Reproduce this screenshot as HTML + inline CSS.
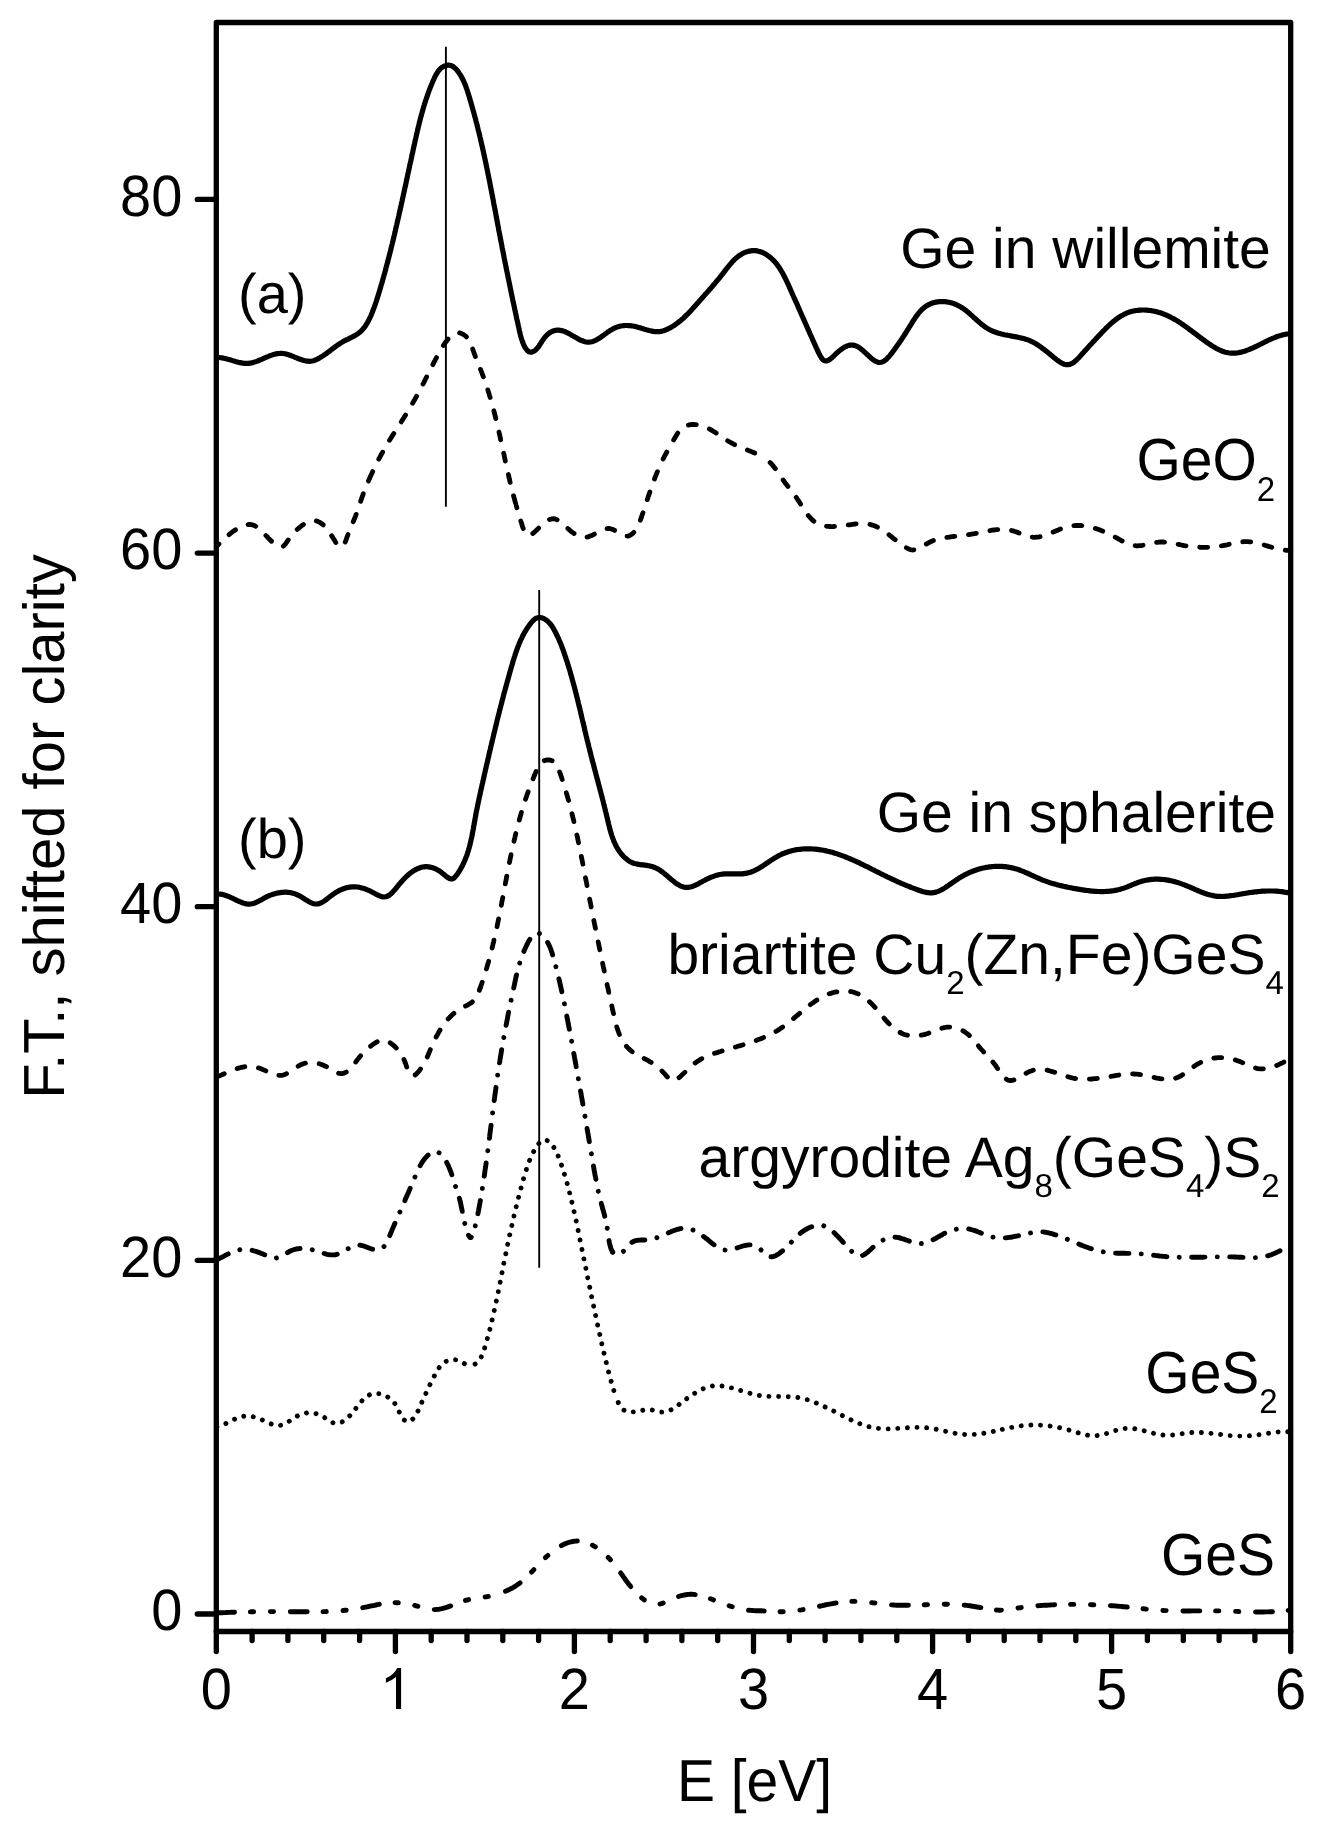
<!DOCTYPE html>
<html><head><meta charset="utf-8"><style>html,body{margin:0;padding:0;background:#fff;}svg{display:block;}text{text-rendering:geometricPrecision;}svg{will-change:transform;}</style></head>
<body>
<svg width="1318" height="1825" viewBox="0 0 1318 1825">
<rect width="100%" height="100%" fill="#fff"/>
<defs><clipPath id="c"><rect x="216.3" y="22.5" width="1074.4" height="1609.0"/></clipPath></defs>
<g fill="none" stroke="#000" stroke-linejoin="round" clip-path="url(#c)">
<path id="will" d="M216.3,357.5 L217.8,357.5 L219.3,357.5 L220.7,357.7 L222.2,357.9 L223.7,358.2 L225.2,358.5 L226.7,358.9 L228.1,359.3 L229.6,359.7 L231.1,360.1 L232.6,360.6 L234.1,361.1 L235.5,361.5 L237.0,361.9 L238.5,362.3 L239.9,362.6 L241.4,362.9 L242.9,363.2 L244.3,363.3 L245.8,363.4 L247.3,363.4 L248.7,363.3 L250.2,363.1 L251.6,362.9 L253.0,362.5 L254.5,362.1 L255.9,361.6 L257.4,361.1 L258.8,360.5 L260.2,359.9 L261.7,359.3 L263.1,358.7 L264.5,358.0 L266.0,357.4 L267.4,356.8 L268.9,356.2 L270.3,355.6 L271.7,355.1 L273.2,354.6 L274.6,354.2 L276.1,353.9 L277.5,353.6 L279.0,353.5 L280.4,353.4 L281.9,353.4 L283.3,353.5 L284.8,353.8 L286.3,354.1 L287.8,354.5 L289.2,355.0 L290.7,355.5 L292.2,356.1 L293.6,356.7 L295.1,357.3 L296.6,357.9 L298.0,358.5 L299.5,359.0 L300.9,359.6 L302.4,360.0 L303.8,360.5 L305.2,360.8 L306.6,361.1 L308.0,361.2 L309.4,361.3 L310.8,361.2 L312.1,361.0 L313.5,360.7 L314.8,360.3 L316.1,359.7 L317.4,359.1 L318.7,358.4 L320.0,357.7 L321.2,356.9 L322.5,356.1 L323.7,355.3 L325.0,354.5 L326.2,353.6 L327.4,352.7 L328.6,351.8 L329.8,350.9 L331.0,349.9 L332.3,349.0 L333.5,348.1 L334.7,347.2 L335.9,346.3 L337.2,345.4 L338.4,344.5 L339.7,343.7 L341.0,342.9 L342.3,342.1 L343.6,341.3 L344.9,340.6 L346.3,339.9 L347.6,339.3 L349.0,338.6 L350.3,337.9 L351.7,337.3 L353.0,336.6 L354.3,335.9 L355.6,335.2 L356.8,334.4 L358.0,333.6 L359.2,332.7 L360.3,331.8 L361.4,330.8 L362.4,329.7 L363.4,328.6 L364.3,327.4 L365.2,326.2 L366.0,325.0 L366.8,323.7 L367.6,322.3 L368.3,321.0 L369.0,319.6 L369.7,318.2 L370.4,316.8 L371.0,315.4 L371.6,313.9 L372.2,312.5 L372.8,311.0 L373.3,309.6 L373.9,308.2 L374.4,306.7 L374.9,305.3 L375.4,303.9 L375.9,302.5 L376.4,301.0 L376.8,299.6 L377.3,298.2 L377.7,296.8 L378.2,295.4 L378.6,294.0 L379.0,292.5 L379.5,291.1 L379.9,289.7 L380.3,288.3 L380.7,286.9 L381.1,285.4 L381.6,284.0 L382.0,282.6 L382.4,281.2 L382.8,279.7 L383.2,278.3 L383.6,276.9 L384.0,275.4 L384.4,274.0 L384.8,272.6 L385.2,271.1 L385.6,269.7 L385.9,268.2 L386.3,266.8 L386.7,265.4 L387.1,263.9 L387.5,262.5 L387.9,261.0 L388.2,259.6 L388.6,258.1 L389.0,256.7 L389.4,255.2 L389.7,253.8 L390.1,252.3 L390.5,250.9 L390.8,249.4 L391.2,248.0 L391.5,246.5 L391.9,245.1 L392.3,243.6 L392.6,242.1 L393.0,240.7 L393.3,239.2 L393.7,237.8 L394.0,236.3 L394.4,234.8 L394.7,233.4 L395.1,231.9 L395.4,230.4 L395.7,229.0 L396.1,227.5 L396.4,226.1 L396.8,224.6 L397.1,223.1 L397.4,221.7 L397.8,220.2 L398.1,218.7 L398.4,217.3 L398.8,215.8 L399.1,214.3 L399.4,212.8 L399.8,211.4 L400.1,209.9 L400.4,208.4 L400.8,207.0 L401.1,205.5 L401.4,204.0 L401.7,202.6 L402.1,201.1 L402.4,199.6 L402.7,198.1 L403.0,196.7 L403.3,195.2 L403.7,193.7 L404.0,192.3 L404.3,190.8 L404.6,189.3 L404.9,187.9 L405.3,186.4 L405.6,184.9 L405.9,183.4 L406.2,182.0 L406.5,180.5 L406.9,179.0 L407.2,177.6 L407.5,176.1 L407.8,174.6 L408.1,173.2 L408.4,171.7 L408.8,170.2 L409.1,168.8 L409.4,167.3 L409.7,165.8 L410.0,164.4 L410.3,162.9 L410.7,161.4 L411.0,160.0 L411.3,158.5 L411.6,157.1 L411.9,155.6 L412.2,154.1 L412.6,152.7 L412.9,151.2 L413.2,149.8 L413.5,148.3 L413.8,146.9 L414.2,145.4 L414.5,143.9 L414.8,142.5 L415.1,141.0 L415.4,139.6 L415.8,138.1 L416.1,136.7 L416.4,135.2 L416.7,133.8 L417.1,132.3 L417.4,130.9 L417.8,129.5 L418.1,128.0 L418.4,126.6 L418.8,125.1 L419.1,123.7 L419.5,122.2 L419.9,120.8 L420.2,119.4 L420.6,117.9 L421.0,116.5 L421.4,115.0 L421.8,113.6 L422.2,112.2 L422.6,110.7 L423.0,109.3 L423.4,107.8 L423.8,106.4 L424.3,105.0 L424.7,103.5 L425.2,102.1 L425.6,100.7 L426.1,99.2 L426.6,97.8 L427.1,96.4 L427.6,94.9 L428.1,93.5 L428.6,92.0 L429.1,90.6 L429.7,89.2 L430.2,87.7 L430.8,86.3 L431.4,84.9 L432.0,83.4 L432.6,82.0 L433.2,80.6 L433.9,79.1 L434.5,77.7 L435.2,76.3 L435.9,74.9 L436.7,73.6 L437.5,72.3 L438.3,71.1 L439.2,70.0 L440.2,68.9 L441.2,68.0 L442.3,67.2 L443.5,66.5 L444.8,65.9 L446.2,65.5 L447.6,65.2 L449.0,65.2 L450.4,65.4 L451.7,65.8 L452.9,66.4 L454.1,67.3 L455.2,68.3 L456.3,69.4 L457.3,70.6 L458.3,71.9 L459.1,73.1 L460.0,74.4 L460.8,75.7 L461.6,77.1 L462.3,78.4 L463.0,79.7 L463.6,81.1 L464.2,82.5 L464.8,83.9 L465.4,85.2 L465.9,86.6 L466.4,88.1 L466.9,89.5 L467.4,90.9 L467.8,92.3 L468.3,93.7 L468.7,95.2 L469.2,96.6 L469.6,98.0 L470.0,99.5 L470.4,100.9 L470.9,102.3 L471.3,103.8 L471.7,105.2 L472.1,106.7 L472.5,108.1 L472.9,109.5 L473.3,111.0 L473.7,112.4 L474.1,113.9 L474.5,115.3 L474.9,116.8 L475.3,118.2 L475.7,119.7 L476.0,121.1 L476.4,122.6 L476.8,124.0 L477.2,125.5 L477.5,126.9 L477.9,128.4 L478.2,129.8 L478.6,131.3 L479.0,132.7 L479.3,134.2 L479.7,135.6 L480.0,137.1 L480.4,138.6 L480.7,140.0 L481.0,141.5 L481.4,142.9 L481.7,144.4 L482.0,145.9 L482.4,147.3 L482.7,148.8 L483.0,150.3 L483.4,151.7 L483.7,153.2 L484.0,154.6 L484.3,156.1 L484.6,157.6 L484.9,159.0 L485.3,160.5 L485.6,162.0 L485.9,163.5 L486.2,164.9 L486.5,166.4 L486.8,167.9 L487.1,169.3 L487.4,170.8 L487.7,172.3 L488.0,173.7 L488.3,175.2 L488.6,176.7 L488.9,178.2 L489.2,179.6 L489.5,181.1 L489.8,182.6 L490.1,184.1 L490.3,185.5 L490.6,187.0 L490.9,188.5 L491.2,189.9 L491.5,191.4 L491.8,192.9 L492.1,194.4 L492.3,195.8 L492.6,197.3 L492.9,198.8 L493.2,200.3 L493.5,201.7 L493.7,203.2 L494.0,204.7 L494.3,206.2 L494.6,207.6 L494.9,209.1 L495.1,210.6 L495.4,212.1 L495.7,213.5 L496.0,215.0 L496.2,216.5 L496.5,218.0 L496.8,219.4 L497.1,220.9 L497.4,222.4 L497.6,223.9 L497.9,225.3 L498.2,226.8 L498.5,228.3 L498.7,229.7 L499.0,231.2 L499.3,232.7 L499.6,234.2 L499.9,235.6 L500.2,237.1 L500.4,238.6 L500.7,240.0 L501.0,241.5 L501.3,243.0 L501.6,244.5 L501.9,245.9 L502.1,247.4 L502.4,248.9 L502.7,250.3 L503.0,251.8 L503.3,253.3 L503.6,254.7 L503.9,256.2 L504.1,257.7 L504.4,259.1 L504.7,260.6 L505.0,262.1 L505.3,263.5 L505.6,265.0 L505.9,266.5 L506.2,267.9 L506.5,269.4 L506.8,270.9 L507.1,272.3 L507.4,273.8 L507.7,275.3 L508.0,276.7 L508.3,278.2 L508.6,279.7 L508.9,281.1 L509.2,282.6 L509.5,284.1 L509.8,285.5 L510.1,287.0 L510.4,288.5 L510.7,289.9 L511.0,291.4 L511.3,292.9 L511.6,294.3 L511.9,295.8 L512.2,297.3 L512.5,298.8 L512.8,300.2 L513.1,301.7 L513.5,303.2 L513.8,304.6 L514.1,306.1 L514.4,307.6 L514.7,309.0 L515.0,310.5 L515.3,312.0 L515.7,313.4 L516.0,314.9 L516.3,316.4 L516.6,317.9 L516.9,319.3 L517.3,320.8 L517.6,322.3 L517.9,323.8 L518.2,325.2 L518.5,326.7 L518.9,328.2 L519.2,329.7 L519.5,331.1 L519.9,332.6 L520.2,334.1 L520.6,335.6 L521.0,337.1 L521.4,338.5 L521.9,340.0 L522.4,341.5 L523.0,343.0 L523.6,344.6 L524.4,346.1 L525.1,347.5 L526.0,348.8 L526.9,350.0 L527.9,351.0 L529.0,351.7 L530.1,352.1 L531.2,352.1 L532.4,351.9 L533.6,351.4 L534.8,350.6 L536.0,349.7 L537.0,348.5 L538.1,347.3 L539.1,345.9 L540.0,344.4 L541.0,342.9 L541.9,341.4 L542.9,339.9 L543.9,338.5 L544.9,337.2 L546.0,336.0 L547.1,334.9 L548.2,333.9 L549.4,333.0 L550.6,332.2 L551.9,331.5 L553.2,331.0 L554.5,330.6 L555.9,330.3 L557.2,330.2 L558.6,330.2 L560.0,330.3 L561.4,330.6 L562.9,330.9 L564.3,331.4 L565.7,332.0 L567.0,332.6 L568.4,333.3 L569.8,334.1 L571.2,334.9 L572.6,335.7 L574.0,336.5 L575.4,337.3 L576.8,338.1 L578.2,338.9 L579.5,339.6 L580.9,340.3 L582.3,340.8 L583.6,341.3 L585.0,341.7 L586.3,342.0 L587.7,342.2 L589.0,342.2 L590.4,342.0 L591.7,341.8 L593.0,341.4 L594.3,340.9 L595.7,340.3 L597.0,339.6 L598.3,338.8 L599.6,338.0 L600.9,337.1 L602.2,336.1 L603.6,335.2 L604.9,334.2 L606.2,333.3 L607.5,332.3 L608.9,331.4 L610.2,330.5 L611.6,329.7 L612.9,328.9 L614.3,328.2 L615.6,327.6 L617.0,327.1 L618.4,326.7 L619.8,326.3 L621.2,326.0 L622.6,325.8 L624.0,325.6 L625.4,325.5 L626.9,325.5 L628.3,325.6 L629.8,325.7 L631.2,325.8 L632.7,326.0 L634.1,326.3 L635.6,326.6 L637.1,327.0 L638.5,327.4 L640.0,327.8 L641.5,328.3 L643.0,328.7 L644.5,329.2 L645.9,329.6 L647.4,330.1 L648.9,330.5 L650.4,330.8 L651.9,331.1 L653.4,331.4 L654.8,331.6 L656.3,331.7 L657.8,331.7 L659.2,331.6 L660.7,331.4 L662.1,331.1 L663.6,330.7 L665.0,330.2 L666.4,329.6 L667.8,329.0 L669.1,328.3 L670.5,327.6 L671.8,326.9 L673.1,326.1 L674.4,325.3 L675.6,324.4 L676.8,323.5 L678.0,322.6 L679.2,321.7 L680.4,320.8 L681.5,319.8 L682.7,318.8 L683.8,317.8 L684.9,316.7 L685.9,315.7 L687.0,314.6 L688.1,313.6 L689.1,312.5 L690.2,311.4 L691.2,310.3 L692.2,309.2 L693.2,308.0 L694.2,306.9 L695.2,305.8 L696.2,304.7 L697.2,303.5 L698.2,302.4 L699.2,301.3 L700.2,300.2 L701.2,299.1 L702.2,297.9 L703.2,296.8 L704.2,295.7 L705.1,294.6 L706.1,293.5 L707.1,292.4 L708.1,291.3 L709.1,290.1 L710.0,289.0 L711.0,287.9 L712.0,286.8 L712.9,285.7 L713.9,284.5 L714.9,283.4 L715.8,282.2 L716.8,281.1 L717.8,279.9 L718.7,278.8 L719.7,277.6 L720.6,276.4 L721.6,275.3 L722.5,274.1 L723.4,272.9 L724.4,271.6 L725.3,270.4 L726.2,269.2 L727.2,268.0 L728.1,266.8 L729.1,265.6 L730.1,264.4 L731.1,263.3 L732.1,262.1 L733.1,261.0 L734.1,259.9 L735.2,258.9 L736.3,257.9 L737.5,257.0 L738.6,256.1 L739.8,255.2 L741.1,254.4 L742.3,253.7 L743.7,253.0 L745.0,252.4 L746.4,251.9 L747.9,251.5 L749.4,251.1 L750.9,250.9 L752.4,250.7 L753.9,250.7 L755.4,250.7 L756.9,250.9 L758.3,251.2 L759.7,251.5 L761.1,252.0 L762.5,252.5 L763.8,253.1 L765.2,253.8 L766.4,254.6 L767.7,255.5 L768.9,256.4 L770.1,257.3 L771.3,258.3 L772.4,259.3 L773.5,260.4 L774.5,261.5 L775.5,262.7 L776.5,263.9 L777.4,265.1 L778.3,266.3 L779.2,267.6 L780.0,268.8 L780.8,270.1 L781.6,271.5 L782.4,272.8 L783.1,274.1 L783.8,275.5 L784.6,276.9 L785.2,278.2 L785.9,279.6 L786.6,281.0 L787.2,282.4 L787.9,283.8 L788.5,285.1 L789.1,286.5 L789.7,287.9 L790.3,289.2 L790.9,290.6 L791.5,291.9 L792.1,293.3 L792.7,294.6 L793.3,296.0 L793.9,297.3 L794.5,298.6 L795.1,299.9 L795.7,301.3 L796.3,302.6 L796.9,303.9 L797.4,305.2 L798.0,306.5 L798.6,307.9 L799.2,309.2 L799.8,310.5 L800.3,311.8 L800.9,313.2 L801.5,314.5 L802.1,315.8 L802.7,317.2 L803.3,318.5 L803.9,319.9 L804.5,321.2 L805.1,322.6 L805.7,323.9 L806.3,325.3 L806.9,326.7 L807.5,328.1 L808.1,329.5 L808.8,330.9 L809.4,332.3 L810.0,333.8 L810.7,335.2 L811.3,336.7 L812.0,338.1 L812.6,339.6 L813.3,341.1 L814.0,342.6 L814.7,344.2 L815.4,345.7 L816.1,347.3 L816.8,348.8 L817.5,350.4 L818.2,352.0 L819.0,353.5 L819.7,355.0 L820.5,356.4 L821.3,357.6 L822.1,358.7 L823.0,359.7 L823.9,360.4 L824.8,360.8 L825.8,361.0 L826.8,360.9 L827.8,360.6 L828.9,360.0 L830.0,359.3 L831.2,358.3 L832.3,357.3 L833.6,356.2 L834.8,355.0 L836.1,353.7 L837.4,352.5 L838.8,351.3 L840.2,350.1 L841.6,349.1 L843.0,348.1 L844.4,347.2 L845.9,346.5 L847.3,345.9 L848.8,345.4 L850.2,345.1 L851.7,345.0 L853.1,345.1 L854.5,345.4 L855.9,345.9 L857.3,346.5 L858.7,347.3 L860.0,348.2 L861.3,349.2 L862.6,350.3 L863.9,351.4 L865.2,352.6 L866.5,353.8 L867.8,355.0 L869.0,356.2 L870.3,357.3 L871.5,358.4 L872.7,359.4 L874.0,360.3 L875.2,361.1 L876.4,361.7 L877.6,362.2 L878.8,362.4 L879.9,362.5 L881.1,362.3 L882.3,362.0 L883.5,361.4 L884.6,360.7 L885.8,359.8 L886.9,358.8 L888.0,357.6 L889.1,356.4 L890.2,355.1 L891.3,353.8 L892.3,352.4 L893.3,351.1 L894.3,349.7 L895.3,348.4 L896.2,347.1 L897.1,345.8 L898.0,344.5 L898.9,343.3 L899.7,342.0 L900.6,340.8 L901.4,339.6 L902.2,338.4 L903.0,337.1 L903.8,335.9 L904.6,334.7 L905.4,333.5 L906.1,332.3 L906.9,331.0 L907.7,329.8 L908.5,328.5 L909.3,327.2 L910.1,325.9 L910.9,324.6 L911.7,323.3 L912.5,321.9 L913.4,320.6 L914.3,319.3 L915.1,318.0 L916.0,316.7 L917.0,315.4 L917.9,314.1 L918.9,312.9 L919.9,311.7 L920.9,310.6 L922.0,309.5 L923.1,308.5 L924.2,307.5 L925.4,306.6 L926.6,305.8 L927.9,305.1 L929.2,304.4 L930.5,303.8 L931.9,303.3 L933.2,302.8 L934.6,302.4 L936.1,302.1 L937.5,301.9 L938.9,301.7 L940.4,301.6 L941.9,301.6 L943.4,301.6 L944.8,301.7 L946.3,301.8 L947.8,302.1 L949.2,302.3 L950.7,302.7 L952.1,303.1 L953.6,303.5 L955.0,304.1 L956.4,304.7 L957.7,305.3 L959.0,306.0 L960.3,306.7 L961.6,307.5 L962.9,308.4 L964.1,309.2 L965.3,310.1 L966.5,311.1 L967.7,312.1 L968.9,313.1 L970.1,314.1 L971.2,315.1 L972.4,316.1 L973.5,317.2 L974.7,318.2 L975.8,319.3 L977.0,320.3 L978.1,321.3 L979.3,322.3 L980.4,323.3 L981.6,324.3 L982.8,325.2 L984.0,326.1 L985.2,327.0 L986.4,327.8 L987.7,328.6 L989.0,329.4 L990.3,330.0 L991.6,330.7 L992.9,331.3 L994.3,331.8 L995.7,332.3 L997.1,332.8 L998.5,333.2 L999.9,333.6 L1001.4,334.0 L1002.8,334.3 L1004.3,334.7 L1005.8,335.0 L1007.3,335.2 L1008.8,335.5 L1010.3,335.8 L1011.8,336.1 L1013.3,336.4 L1014.8,336.6 L1016.3,336.9 L1017.7,337.2 L1019.2,337.5 L1020.7,337.9 L1022.2,338.2 L1023.6,338.6 L1025.0,339.0 L1026.5,339.4 L1027.9,339.9 L1029.2,340.4 L1030.6,341.0 L1031.9,341.6 L1033.2,342.3 L1034.5,343.0 L1035.8,343.7 L1037.0,344.5 L1038.3,345.3 L1039.5,346.1 L1040.7,347.0 L1041.9,347.9 L1043.1,348.8 L1044.3,349.7 L1045.5,350.7 L1046.7,351.6 L1047.9,352.6 L1049.1,353.6 L1050.3,354.6 L1051.5,355.6 L1052.7,356.6 L1053.9,357.6 L1055.2,358.5 L1056.4,359.5 L1057.7,360.5 L1059.0,361.4 L1060.3,362.3 L1061.6,363.0 L1062.9,363.7 L1064.3,364.2 L1065.6,364.6 L1066.9,364.7 L1068.2,364.7 L1069.4,364.5 L1070.7,364.0 L1072.0,363.4 L1073.2,362.7 L1074.4,361.8 L1075.6,360.8 L1076.8,359.7 L1078.0,358.5 L1079.2,357.3 L1080.3,356.1 L1081.4,354.8 L1082.5,353.6 L1083.6,352.4 L1084.6,351.2 L1085.7,350.1 L1086.7,348.9 L1087.7,347.8 L1088.7,346.7 L1089.7,345.6 L1090.7,344.5 L1091.7,343.5 L1092.6,342.4 L1093.6,341.3 L1094.6,340.3 L1095.6,339.2 L1096.6,338.2 L1097.6,337.1 L1098.5,336.0 L1099.6,335.0 L1100.6,333.9 L1101.6,332.8 L1102.6,331.7 L1103.7,330.6 L1104.8,329.5 L1105.8,328.4 L1106.9,327.3 L1108.0,326.3 L1109.2,325.2 L1110.3,324.2 L1111.5,323.1 L1112.6,322.1 L1113.8,321.2 L1115.0,320.2 L1116.2,319.3 L1117.4,318.4 L1118.7,317.5 L1119.9,316.7 L1121.2,315.9 L1122.5,315.2 L1123.8,314.5 L1125.2,313.8 L1126.5,313.2 L1127.9,312.6 L1129.3,312.1 L1130.7,311.7 L1132.1,311.3 L1133.6,311.0 L1135.0,310.7 L1136.5,310.5 L1138.0,310.3 L1139.5,310.1 L1141.0,310.1 L1142.5,310.0 L1144.0,310.0 L1145.5,310.1 L1147.0,310.2 L1148.5,310.3 L1150.0,310.5 L1151.5,310.7 L1153.0,311.0 L1154.4,311.3 L1155.9,311.6 L1157.4,312.0 L1158.8,312.4 L1160.3,312.8 L1161.7,313.3 L1163.1,313.8 L1164.5,314.4 L1165.8,314.9 L1167.2,315.5 L1168.6,316.2 L1169.9,316.8 L1171.2,317.5 L1172.5,318.2 L1173.8,318.9 L1175.1,319.6 L1176.4,320.4 L1177.7,321.2 L1178.9,322.0 L1180.2,322.8 L1181.4,323.6 L1182.7,324.5 L1183.9,325.3 L1185.1,326.2 L1186.4,327.1 L1187.6,328.0 L1188.8,328.9 L1190.0,329.8 L1191.2,330.7 L1192.4,331.6 L1193.7,332.5 L1194.9,333.4 L1196.1,334.3 L1197.3,335.3 L1198.5,336.2 L1199.7,337.1 L1200.9,338.0 L1202.2,338.9 L1203.4,339.8 L1204.6,340.7 L1205.8,341.6 L1207.1,342.5 L1208.3,343.4 L1209.6,344.2 L1210.8,345.0 L1212.1,345.9 L1213.4,346.7 L1214.7,347.4 L1216.0,348.2 L1217.3,348.9 L1218.6,349.5 L1219.9,350.2 L1221.3,350.8 L1222.6,351.3 L1224.0,351.8 L1225.4,352.2 L1226.8,352.5 L1228.2,352.8 L1229.6,353.0 L1231.0,353.2 L1232.5,353.2 L1233.9,353.2 L1235.4,353.1 L1236.9,353.0 L1238.4,352.7 L1239.9,352.4 L1241.5,352.1 L1243.0,351.6 L1244.5,351.2 L1246.0,350.7 L1247.4,350.1 L1248.9,349.6 L1250.3,349.0 L1251.7,348.4 L1253.1,347.8 L1254.5,347.1 L1255.9,346.5 L1257.3,345.8 L1258.6,345.2 L1259.9,344.5 L1261.3,343.8 L1262.6,343.2 L1263.9,342.5 L1265.2,341.8 L1266.6,341.2 L1267.9,340.5 L1269.2,339.9 L1270.5,339.3 L1271.9,338.7 L1273.2,338.1 L1274.6,337.6 L1276.0,337.0 L1277.3,336.5 L1278.7,336.1 L1280.2,335.6 L1281.6,335.2 L1283.0,334.8 L1284.5,334.5 L1286.0,334.2 L1287.6,334.0 L1289.1,333.8 L1290.7,333.6" stroke-width="5.2"/>
<path d="M216.3,546.8 L217.0,546.1 L217.7,545.3 L218.5,544.4 L219.4,543.5 L220.4,542.5 L221.4,541.5 L222.5,540.4 L223.6,539.3 L224.8,538.2 L226.1,537.1 L227.3,536.0 L228.7,534.9 L230.0,533.8 L231.4,532.7 L232.8,531.6 L234.2,530.6 L235.7,529.7 L237.1,528.8 L238.6,527.9 L240.0,527.1 L241.5,526.5 L242.9,525.9 L244.4,525.4 L245.8,525.0 L247.2,524.7 L248.5,524.5 L249.9,524.5 L251.1,524.6 L252.4,524.9 L253.6,525.3 L254.8,525.8 L256.0,526.4 L257.1,527.2 L258.3,528.0 L259.4,528.9 L260.5,529.9 L261.6,530.9 L262.7,532.0 L263.8,533.2 L264.9,534.4 L266.0,535.6 L267.2,536.8 L268.3,538.1 L269.5,539.3 L270.7,540.5 L272.0,541.8 L273.2,542.9 L274.5,544.0 L275.8,545.0 L277.1,545.8 L278.4,546.4 L279.6,546.8 L280.8,547.0 L282.0,546.8 L283.0,546.3 L284.1,545.5 L285.1,544.4 L286.0,543.2 L286.9,541.9 L287.9,540.5 L288.8,539.1 L289.7,537.8 L290.7,536.5 L291.6,535.3 L292.6,534.1 L293.6,533.0 L294.7,531.9 L295.7,530.9 L296.8,529.8 L297.9,528.8 L299.1,527.8 L300.3,526.8 L301.5,525.9 L302.8,524.9 L304.1,524.0 L305.5,523.2 L306.8,522.4 L308.2,521.8 L309.6,521.2 L311.0,520.9 L312.4,520.6 L313.8,520.6 L315.2,520.7 L316.6,521.0 L318.0,521.5 L319.3,522.2 L320.6,522.9 L321.8,523.7 L323.0,524.7 L324.1,525.6 L325.1,526.7 L326.1,527.8 L327.1,528.9 L328.0,530.1 L328.9,531.4 L329.8,532.7 L330.7,534.1 L331.6,535.6 L332.5,537.1 L333.5,538.7 L334.5,540.3 L335.4,541.8 L336.4,543.3 L337.4,544.5 L338.4,545.6 L339.4,546.4 L340.3,546.9 L341.2,547.0 L342.0,546.7 L342.8,546.1 L343.6,545.1 L344.3,543.9 L345.0,542.5 L345.7,540.9 L346.3,539.2 L346.9,537.4 L347.6,535.6 L348.2,533.9 L348.8,532.3 L349.4,530.7 L350.0,529.2 L350.6,527.8 L351.2,526.4 L351.8,525.0 L352.4,523.7 L352.9,522.4 L353.5,521.1 L354.0,519.8 L354.6,518.5 L355.1,517.1 L355.6,515.8 L356.1,514.4 L356.6,513.1 L357.1,511.7 L357.6,510.3 L358.1,508.9 L358.6,507.4 L359.1,506.0 L359.5,504.6 L360.0,503.2 L360.5,501.7 L361.0,500.3 L361.5,498.8 L362.0,497.4 L362.5,496.0 L363.0,494.6 L363.5,493.2 L364.1,491.7 L364.6,490.3 L365.2,488.9 L365.7,487.5 L366.3,486.2 L366.8,484.8 L367.4,483.4 L368.0,482.0 L368.6,480.6 L369.2,479.3 L369.8,477.9 L370.4,476.5 L371.0,475.2 L371.7,473.8 L372.3,472.4" stroke-width="4.8" stroke-linecap="round" stroke-dasharray="8 13.8" stroke-dashoffset="4.12"/>
<path d="M372.3,472.4 L372.9,471.1 L373.6,469.7 L374.2,468.4 L374.9,467.0 L375.5,465.7 L376.2,464.4 L376.9,463.0 L377.5,461.7 L378.2,460.3 L378.9,459.0 L379.6,457.7 L380.3,456.4 L381.0,455.0 L381.7,453.7 L382.5,452.4 L383.2,451.1 L383.9,449.8 L384.7,448.5 L385.4,447.2 L386.2,445.9 L386.9,444.6 L387.7,443.3 L388.5,442.0 L389.2,440.7 L390.0,439.5 L390.8,438.2 L391.6,436.9 L392.4,435.6 L393.2,434.4 L394.0,433.1 L394.8,431.8 L395.6,430.6 L396.4,429.3 L397.2,428.1 L398.0,426.8 L398.8,425.5 L399.6,424.3 L400.5,423.0 L401.3,421.8 L402.1,420.5 L402.9,419.2 L403.7,418.0 L404.5,416.7 L405.3,415.4 L406.1,414.2 L406.9,412.9 L407.6,411.6 L408.4,410.3 L409.2,409.1 L410.0,407.8 L410.7,406.5 L411.5,405.2 L412.2,403.9 L413.0,402.6 L413.7,401.3 L414.5,400.0 L415.2,398.7 L415.9,397.4 L416.7,396.0 L417.4,394.7 L418.1,393.4 L418.8,392.1 L419.5,390.7 L420.2,389.4 L420.9,388.1 L421.6,386.8 L422.3,385.4 L423.0,384.1 L423.7,382.8 L424.4,381.4 L425.0,380.1 L425.7,378.7 L426.4,377.4 L427.1,376.1 L427.7,374.7 L428.4,373.4 L429.1,372.1 L429.8,370.7 L430.4,369.4 L431.1,368.1 L431.8,366.7 L432.5,365.4 L433.1,364.1 L433.8,362.7 L434.5,361.4 L435.2,360.1 L435.8,358.8 L436.5,357.5 L437.2,356.1 L437.9,354.8 L438.6,353.5 L439.3,352.2 L440.0,350.9 L440.8,349.6 L441.5,348.3 L442.3,347.0 L443.2,345.8 L444.0,344.5 L444.9,343.2 L445.8,341.9 L446.8,340.7 L447.8,339.4 L448.8,338.2 L449.9,337.0 L451.1,335.9 L452.3,334.9 L453.5,334.1 L454.8,333.4 L456.1,333.0 L457.4,332.8 L458.8,332.8 L460.2,333.1 L461.6,333.6 L463.0,334.2 L464.3,335.1 L465.6,336.0 L466.7,337.1 L467.7,338.3 L468.5,339.5 L469.3,340.8 L470.0,342.2 L470.7,343.6 L471.2,345.0 L471.8,346.4 L472.3,347.9 L472.8,349.4 L473.3,350.8 L473.8,352.3 L474.3,353.7 L474.9,355.1 L475.4,356.5 L476.0,358.0 L476.5,359.4 L477.1,360.7 L477.6,362.1 L478.2,363.5 L478.7,364.9 L479.3,366.3 L479.8,367.7 L480.4,369.0 L480.9,370.4 L481.5,371.8 L482.0,373.2 L482.5,374.6 L483.0,375.9 L483.6,377.3 L484.1,378.7 L484.6,380.1 L485.1,381.5 L485.5,382.9 L486.0,384.3 L486.5,385.8 L487.0,387.2 L487.4,388.6 L487.9,390.0 L488.3,391.4 L488.8,392.9 L489.2,394.3 L489.6,395.7 L490.1,397.2 L490.5,398.6 L490.9,400.0 L491.3,401.5 L491.7,402.9 L492.1,404.4 L492.5,405.8 L492.9,407.3 L493.3,408.7 L493.7,410.2 L494.1,411.6 L494.4,413.1 L494.8,414.5 L495.2,416.0 L495.5,417.5 L495.9,418.9 L496.2,420.4 L496.6,421.8 L497.0,423.3 L497.3,424.8 L497.6,426.2 L498.0,427.7 L498.3,429.2 L498.7,430.6 L499.0,432.1 L499.3,433.6 L499.7,435.1 L500.0,436.5 L500.3,438.0 L500.6,439.5 L501.0,440.9 L501.3,442.4 L501.6,443.9 L501.9,445.3 L502.3,446.8 L502.6,448.3 L502.9,449.8 L503.2,451.2 L503.5,452.7 L503.9,454.2 L504.2,455.6 L504.5,457.1 L504.8,458.5 L505.1,460.0 L505.4,461.5 L505.8,462.9 L506.1,464.4 L506.4,465.9 L506.7,467.3 L507.1,468.8 L507.4,470.2 L507.7,471.7 L508.0,473.1 L508.4,474.6 L508.7,476.0 L509.0,477.5 L509.4,478.9 L509.7,480.3 L510.0,481.8 L510.4,483.2 L510.7,484.6 L511.1,486.1 L511.4,487.5 L511.8,488.9 L512.1,490.3 L512.5,491.8 L512.9,493.2 L513.2,494.6 L513.6,496.0 L514.0,497.4 L514.4,498.8 L514.7,500.2 L515.1,501.6 L515.5,503.0 L515.9,504.4 L516.3,505.8" stroke-width="4.8" stroke-linecap="round" stroke-dasharray="8 13.8" stroke-dashoffset="7.07"/>
<path d="M516.3,505.8 L516.7,507.2 L517.1,508.6 L517.6,510.1 L518.0,511.5 L518.4,513.0 L518.9,514.6 L519.4,516.1 L519.8,517.7 L520.3,519.3 L520.8,521.0 L521.4,522.7 L521.9,524.5 L522.4,526.2 L523.0,528.0 L523.7,529.6 L524.3,531.1 L525.0,532.5 L525.8,533.6 L526.6,534.5 L527.5,535.1 L528.5,535.4 L529.5,535.3 L530.6,534.9 L531.8,534.2 L533.0,533.3 L534.2,532.3 L535.4,531.2 L536.7,530.0 L538.0,528.8 L539.2,527.6 L540.5,526.3 L541.8,525.1 L543.1,524.0 L544.4,522.9 L545.7,521.8 L547.0,520.9 L548.3,520.1 L549.6,519.5 L550.9,519.1 L552.2,518.8 L553.5,518.7 L554.8,518.9 L556.0,519.3 L557.3,519.9 L558.5,520.7 L559.7,521.5 L561.0,522.5 L562.2,523.5 L563.4,524.6 L564.6,525.7 L565.8,526.7 L567.0,527.8 L568.2,528.8 L569.3,529.9 L570.5,530.8 L571.7,531.8 L572.9,532.7 L574.1,533.5 L575.4,534.3 L576.6,535.0 L577.8,535.6 L579.1,536.2 L580.3,536.6 L581.6,536.9 L582.9,537.2 L584.2,537.3 L585.5,537.2 L586.8,537.1 L588.2,536.8 L589.6,536.3 L591.0,535.8 L592.4,535.1 L593.9,534.4 L595.3,533.6 L596.8,532.8 L598.3,531.9 L599.7,531.2 L601.2,530.4 L602.7,529.8 L604.2,529.2 L605.7,528.8 L607.1,528.6 L608.6,528.5 L610.0,528.7 L611.4,529.0 L612.9,529.5 L614.3,530.2 L615.7,531.0 L617.1,531.8 L618.5,532.6 L619.9,533.5 L621.3,534.3 L622.6,535.0 L624.0,535.6 L625.4,536.0 L626.7,536.1 L628.0,536.1 L629.3,535.7 L630.5,535.1 L631.7,534.3 L632.8,533.4 L633.9,532.3 L634.8,531.2 L635.7,530.0 L636.5,528.7 L637.3,527.5 L638.0,526.1 L638.6,524.7 L639.2,523.3 L639.7,521.9 L640.3,520.5 L640.8,519.0 L641.3,517.6 L641.8,516.1 L642.3,514.6 L642.8,513.2 L643.3,511.7 L643.7,510.3 L644.2,508.8 L644.7,507.4 L645.2,505.9 L645.7,504.5 L646.1,503.1 L646.6,501.6 L647.1,500.2 L647.6,498.8 L648.0,497.3 L648.5,495.9 L649.0,494.5 L649.5,493.1 L650.0,491.6 L650.4,490.2 L650.9,488.8 L651.4,487.4 L651.9,486.0 L652.4,484.6 L652.9,483.2 L653.4,481.8 L654.0,480.4 L654.5,479.0 L655.0,477.6 L655.5,476.2 L656.1,474.8 L656.6,473.5 L657.2,472.1 L657.8,470.7 L658.3,469.4 L658.9,468.0 L659.5,466.6 L660.1,465.3 L660.7,463.9 L661.4,462.6 L662.0,461.2 L662.7,459.9 L663.3,458.6 L664.0,457.3 L664.7,455.9 L665.4,454.6 L666.1,453.3 L666.8,452.0 L667.5,450.7 L668.3,449.4 L669.0,448.0 L669.8,446.7 L670.5,445.4 L671.3,444.1 L672.0,442.8 L672.8,441.5 L673.6,440.1 L674.4,438.8 L675.1,437.5 L675.9,436.1 L676.7,434.8 L677.5,433.5 L678.4,432.2 L679.3,431.0 L680.2,429.8 L681.2,428.8 L682.3,427.8 L683.5,426.9 L684.7,426.2 L686.1,425.6 L687.6,425.2 L689.1,424.9 L690.6,424.6 L692.2,424.5 L693.7,424.5 L695.2,424.6 L696.7,424.7 L698.2,424.9 L699.7,425.2 L701.1,425.6 L702.5,426.0 L703.9,426.5 L705.3,427.0 L706.6,427.6 L708.0,428.3 L709.3,428.9 L710.6,429.6 L711.9,430.4 L713.2,431.2 L714.5,432.0 L715.7,432.8 L717.0,433.6 L718.3,434.5 L719.5,435.3 L720.8,436.2 L722.1,437.1 L723.3,437.9 L724.6,438.8 L725.9,439.6 L727.1,440.4 L728.4,441.2 L729.7,442.0 L731.0,442.7 L732.3,443.4 L733.6,444.1 L735.0,444.8 L736.3,445.4 L737.6,446.0 L739.0,446.6 L740.3,447.2 L741.7,447.8 L743.1,448.3 L744.4,448.9 L745.8,449.4 L747.2,450.0 L748.6,450.5 L750.0,451.1 L751.4,451.6 L752.8,452.2 L754.2,452.8 L755.6,453.4 L757.0,454.0 L758.4,454.6 L759.8,455.3 L761.1,456.0" stroke-width="4.8" stroke-linecap="round" stroke-dasharray="8 13.8" stroke-dashoffset="5.99"/>
<path d="M761.1,456.0 L762.4,456.7 L763.7,457.5 L765.0,458.3 L766.2,459.2 L767.4,460.1 L768.5,461.1 L769.6,462.1 L770.7,463.1 L771.7,464.2 L772.7,465.3 L773.6,466.5 L774.6,467.7 L775.5,468.9 L776.4,470.1 L777.3,471.3 L778.1,472.6 L779.0,473.8 L779.8,475.1 L780.7,476.3 L781.5,477.6 L782.4,478.8 L783.2,480.1 L784.1,481.3 L784.9,482.5 L785.8,483.7 L786.7,484.8 L787.6,486.0 L788.5,487.1 L789.4,488.3 L790.3,489.4 L791.2,490.5 L792.1,491.7 L793.0,492.9 L793.9,494.0 L794.8,495.2 L795.6,496.5 L796.5,497.7 L797.3,499.0 L798.2,500.3 L799.0,501.6 L799.9,503.0 L800.7,504.3 L801.5,505.7 L802.4,507.0 L803.2,508.3 L804.1,509.6 L804.9,510.9 L805.8,512.2 L806.7,513.5 L807.6,514.7 L808.6,515.9 L809.6,517.0 L810.6,518.1 L811.6,519.2 L812.6,520.1 L813.7,521.1 L814.9,521.9 L816.1,522.7 L817.3,523.4 L818.5,524.0 L819.8,524.6 L821.2,525.0 L822.5,525.4 L823.9,525.8 L825.4,526.0 L826.8,526.3 L828.3,526.4 L829.7,526.5 L831.2,526.6 L832.7,526.6 L834.2,526.5 L835.7,526.4 L837.2,526.3 L838.7,526.2 L840.2,526.0 L841.8,525.8 L843.3,525.6 L844.8,525.4 L846.4,525.2 L847.9,525.0 L849.4,524.8 L850.9,524.6 L852.5,524.4 L854.0,524.2 L855.5,524.0 L857.0,523.9 L858.5,523.8 L860.0,523.7 L861.5,523.7 L863.0,523.7 L864.4,523.7 L865.9,523.8 L867.3,524.0 L868.7,524.2 L870.2,524.5 L871.5,524.9 L872.9,525.3 L874.3,525.8 L875.6,526.3 L876.9,526.9 L878.3,527.6 L879.6,528.3 L880.9,529.0 L882.1,529.8 L883.4,530.7 L884.7,531.6 L886.0,532.5 L887.2,533.4 L888.5,534.3 L889.7,535.3 L891.0,536.3 L892.2,537.3 L893.4,538.3 L894.7,539.3 L895.9,540.3 L897.2,541.2 L898.4,542.2 L899.7,543.2 L901.0,544.1 L902.2,545.1 L903.5,546.0 L904.8,546.8 L906.1,547.6 L907.4,548.3 L908.7,549.0 L910.0,549.5 L911.4,549.8 L912.7,550.0 L914.0,549.9 L915.3,549.7 L916.7,549.3 L918.0,548.8 L919.4,548.2 L920.7,547.4 L922.1,546.6 L923.4,545.8 L924.8,544.9 L926.2,544.1 L927.6,543.3 L929.0,542.5 L930.4,541.8 L931.8,541.2 L933.2,540.6 L934.6,540.1 L936.1,539.7 L937.5,539.3 L939.0,538.9 L940.4,538.5 L941.9,538.2 L943.3,538.0 L944.8,537.7 L946.3,537.5 L947.7,537.3 L949.2,537.1 L950.7,536.9 L952.2,536.7 L953.6,536.5 L955.1,536.4 L956.6,536.2 L958.1,536.0 L959.6,535.9 L961.0,535.7 L962.5,535.5 L964.0,535.3 L965.5,535.1 L967.0,534.9 L968.5,534.7 L970.0,534.5 L971.4,534.2 L972.9,533.9 L974.4,533.7 L975.9,533.4 L977.4,533.1 L978.9,532.8 L980.3,532.5 L981.8,532.2 L983.3,531.8 L984.8,531.6 L986.3,531.3 L987.7,531.0 L989.2,530.7 L990.7,530.5 L992.2,530.2 L993.7,530.0 L995.1,529.9 L996.6,529.7 L998.1,529.6 L999.6,529.5 L1001.1,529.5 L1002.5,529.5 L1004.0,529.5 L1005.5,529.6 L1007.0,529.7 L1008.4,529.9 L1009.9,530.2 L1011.4,530.5 L1012.9,530.8 L1014.3,531.3 L1015.8,531.7 L1017.3,532.3 L1018.8,532.9 L1020.2,533.5 L1021.7,534.1 L1023.2,534.7 L1024.6,535.2 L1026.1,535.8 L1027.5,536.2 L1029.0,536.6 L1030.4,536.9 L1031.9,537.2 L1033.3,537.3 L1034.8,537.3 L1036.2,537.2 L1037.7,537.1 L1039.1,536.9 L1040.5,536.6 L1041.9,536.2 L1043.4,535.8 L1044.8,535.4 L1046.2,534.9 L1047.6,534.4 L1049.1,533.8 L1050.5,533.2 L1051.9,532.6 L1053.3,532.0 L1054.7,531.4 L1056.2,530.8 L1057.6,530.2 L1059.0,529.6 L1060.4,529.0 L1061.9,528.5 L1063.3,528.0 L1064.7,527.5 L1066.1,527.0 L1067.6,526.7 L1069.0,526.3 L1070.5,526.1 L1071.9,525.8 L1073.3,525.7 L1074.8,525.6 L1076.2,525.5 L1077.7,525.5 L1079.1,525.5 L1080.6,525.5 L1082.0,525.7 L1083.5,525.8 L1084.9,526.0 L1086.4,526.2 L1087.8,526.5 L1089.3,526.8 L1090.7,527.1 L1092.2,527.5 L1093.6,527.9 L1095.0,528.3 L1096.5,528.8 L1097.9,529.3 L1099.3,529.8 L1100.7,530.3 L1102.2,530.9 L1103.6,531.5 L1105.0,532.1 L1106.4,532.7 L1107.8,533.4 L1109.2,534.1 L1110.6,534.7 L1112.0,535.4 L1113.3,536.1 L1114.7,536.9 L1116.1,537.6 L1117.4,538.3 L1118.8,539.1 L1120.1,539.8 L1121.4,540.6 L1122.8,541.3 L1124.1,542.0 L1125.4,542.7 L1126.8,543.3 L1128.1,543.9 L1129.5,544.4 L1130.8,544.9 L1132.2,545.2 L1133.6,545.5 L1135.0,545.7 L1136.4,545.8 L1137.8,545.8 L1139.3,545.7 L1140.8,545.6 L1142.3,545.4 L1143.8,545.1 L1145.3,544.8 L1146.8,544.5 L1148.3,544.2 L1149.8,543.8 L1151.3,543.5 L1152.9,543.1 L1154.4,542.8 L1155.9,542.5 L1157.5,542.3 L1159.0,542.1 L1160.5,542.0 L1162.0,542.0 L1163.5,542.0 L1165.0,542.1 L1166.5,542.2 L1168.0,542.4 L1169.5,542.6 L1171.0,542.9 L1172.5,543.1 L1174.0,543.4 L1175.5,543.8 L1176.9,544.1 L1178.4,544.4 L1179.9,544.7 L1181.4,545.0 L1182.9,545.3 L1184.3,545.6 L1185.8,545.8 L1187.3,546.1 L1188.8,546.3 L1190.2,546.5 L1191.7,546.6 L1193.2,546.8 L1194.7,546.9 L1196.1,547.1 L1197.6,547.2 L1199.1,547.2 L1200.6,547.3 L1202.0,547.3 L1203.5,547.4 L1205.0,547.3 L1206.5,547.3 L1207.9,547.3 L1209.4,547.2 L1210.9,547.1 L1212.4,547.0 L1213.9,546.9 L1215.3,546.7 L1216.8,546.6 L1218.3,546.4 L1219.8,546.2 L1221.3,545.9 L1222.7,545.7 L1224.2,545.4 L1225.7,545.1 L1227.2,544.8 L1228.7,544.4 L1230.2,544.1 L1231.6,543.7 L1233.1,543.4 L1234.6,543.0 L1236.1,542.7 L1237.6,542.4 L1239.1,542.2 L1240.5,542.0 L1242.0,541.8 L1243.5,541.7 L1245.0,541.6 L1246.5,541.6 L1247.9,541.7 L1249.4,541.8 L1250.9,541.9 L1252.4,542.2 L1253.8,542.4 L1255.3,542.7 L1256.8,543.0 L1258.3,543.4 L1259.7,543.8 L1261.2,544.2 L1262.7,544.6 L1264.2,545.0 L1265.6,545.5 L1267.1,545.9 L1268.6,546.4 L1270.1,546.8 L1271.5,547.3 L1273.0,547.7 L1274.5,548.1 L1276.0,548.5 L1277.4,548.9 L1278.9,549.2 L1280.4,549.5 L1281.8,549.8 L1283.3,550.0 L1284.8,550.1 L1286.3,550.3 L1287.7,550.3 L1289.2,550.4 L1290.7,550.3" stroke-width="4.8" stroke-linecap="round" stroke-dasharray="8 13.8" stroke-dashoffset="10.62"/>
<path id="sph" d="M216.3,894.3 L217.8,894.1 L219.2,894.1 L220.7,894.2 L222.1,894.4 L223.6,894.7 L225.1,895.2 L226.5,895.7 L228.0,896.2 L229.5,896.8 L230.9,897.5 L232.4,898.2 L233.8,898.9 L235.3,899.6 L236.7,900.3 L238.1,901.0 L239.6,901.6 L241.0,902.2 L242.4,902.8 L243.8,903.3 L245.2,903.6 L246.6,903.9 L248.0,904.1 L249.4,904.1 L250.7,904.0 L252.1,903.8 L253.4,903.4 L254.7,903.0 L256.1,902.4 L257.4,901.8 L258.7,901.1 L260.1,900.4 L261.4,899.7 L262.8,898.9 L264.2,898.1 L265.6,897.4 L267.0,896.7 L268.4,896.0 L269.8,895.4 L271.3,894.9 L272.7,894.3 L274.2,893.9 L275.7,893.5 L277.2,893.1 L278.7,892.8 L280.2,892.6 L281.7,892.4 L283.2,892.3 L284.7,892.2 L286.2,892.2 L287.7,892.3 L289.2,892.5 L290.7,892.7 L292.2,893.0 L293.7,893.4 L295.1,893.9 L296.6,894.5 L298.0,895.1 L299.4,895.8 L300.8,896.6 L302.2,897.4 L303.5,898.3 L304.9,899.2 L306.2,900.0 L307.5,900.8 L308.8,901.6 L310.1,902.3 L311.4,902.9 L312.7,903.4 L314.0,903.8 L315.3,904.0 L316.5,904.0 L317.8,903.9 L319.1,903.6 L320.3,903.2 L321.6,902.6 L322.8,901.9 L324.1,901.1 L325.4,900.2 L326.6,899.3 L327.9,898.3 L329.2,897.3 L330.5,896.3 L331.8,895.3 L333.1,894.3 L334.5,893.4 L335.8,892.5 L337.2,891.7 L338.6,890.9 L340.0,890.2 L341.4,889.6 L342.8,889.0 L344.2,888.5 L345.7,888.0 L347.1,887.6 L348.5,887.3 L350.0,887.1 L351.4,886.9 L352.9,886.8 L354.4,886.8 L355.8,886.9 L357.3,887.0 L358.8,887.2 L360.2,887.5 L361.7,887.9 L363.2,888.3 L364.6,888.7 L366.1,889.3 L367.5,889.9 L369.0,890.5 L370.5,891.2 L371.9,892.0 L373.3,892.7 L374.8,893.5 L376.2,894.3 L377.6,895.0 L379.0,895.6 L380.3,896.2 L381.7,896.6 L383.0,896.9 L384.2,897.0 L385.4,896.8 L386.6,896.5 L387.8,896.0 L388.9,895.4 L390.0,894.6 L391.1,893.7 L392.2,892.6 L393.2,891.5 L394.3,890.3 L395.3,889.1 L396.4,887.8 L397.4,886.5 L398.5,885.2 L399.5,883.9 L400.6,882.7 L401.7,881.4 L402.8,880.2 L404.0,879.0 L405.1,877.8 L406.3,876.7 L407.4,875.6 L408.6,874.5 L409.8,873.5 L411.0,872.6 L412.3,871.7 L413.5,870.8 L414.8,870.1 L416.1,869.4 L417.4,868.7 L418.7,868.2 L420.0,867.7 L421.3,867.3 L422.7,867.0 L424.1,866.8 L425.5,866.7 L426.9,866.7 L428.4,866.8 L429.8,867.1 L431.3,867.4 L432.8,867.8 L434.2,868.3 L435.7,868.9 L437.2,869.7 L438.6,870.5 L440.0,871.4 L441.4,872.4 L442.7,873.5 L444.1,874.6 L445.4,875.7 L446.6,876.7 L447.8,877.6 L449.0,878.3 L450.2,878.8 L451.3,879.0 L452.4,878.9 L453.5,878.4 L454.5,877.6 L455.5,876.5 L456.4,875.3 L457.4,874.1 L458.3,872.7 L459.1,871.4 L459.9,870.1 L460.7,868.7 L461.5,867.4 L462.2,866.0 L462.9,864.6 L463.6,863.2 L464.2,861.8 L464.8,860.4 L465.4,859.0 L465.9,857.6 L466.5,856.2 L467.0,854.8 L467.5,853.4 L467.9,851.9 L468.4,850.5 L468.8,849.0 L469.2,847.6 L469.6,846.1 L470.0,844.7 L470.3,843.2 L470.7,841.7 L471.0,840.3 L471.3,838.8 L471.7,837.3 L472.0,835.8 L472.3,834.4 L472.5,832.9 L472.8,831.4 L473.1,829.9 L473.4,828.4 L473.6,826.9 L473.9,825.5 L474.2,824.0 L474.4,822.5 L474.7,821.0 L475.0,819.5 L475.2,818.0 L475.5,816.6 L475.8,815.1 L476.0,813.6 L476.3,812.1 L476.6,810.7 L476.9,809.2 L477.2,807.7 L477.5,806.2 L477.8,804.8 L478.1,803.3 L478.4,801.8 L478.7,800.4 L479.0,798.9 L479.3,797.4 L479.7,796.0 L480.0,794.5 L480.3,793.1 L480.6,791.6 L480.9,790.1 L481.3,788.7 L481.6,787.2 L481.9,785.8 L482.2,784.3 L482.6,782.8 L482.9,781.4 L483.2,779.9 L483.6,778.5 L483.9,777.0 L484.2,775.6 L484.5,774.1 L484.9,772.6 L485.2,771.2 L485.5,769.7 L485.9,768.3 L486.2,766.8 L486.5,765.3 L486.9,763.9 L487.2,762.4 L487.6,761.0 L487.9,759.5 L488.2,758.1 L488.6,756.6 L488.9,755.1 L489.2,753.7 L489.6,752.2 L489.9,750.8 L490.3,749.3 L490.6,747.8 L490.9,746.4 L491.3,744.9 L491.6,743.5 L492.0,742.0 L492.3,740.5 L492.7,739.1 L493.0,737.6 L493.4,736.2 L493.7,734.7 L494.1,733.2 L494.4,731.8 L494.8,730.3 L495.1,728.9 L495.5,727.4 L495.8,726.0 L496.2,724.5 L496.5,723.0 L496.9,721.6 L497.2,720.1 L497.6,718.7 L498.0,717.2 L498.3,715.8 L498.7,714.3 L499.1,712.9 L499.4,711.4 L499.8,709.9 L500.2,708.5 L500.5,707.0 L500.9,705.6 L501.3,704.1 L501.7,702.7 L502.0,701.2 L502.4,699.8 L502.8,698.3 L503.2,696.9 L503.5,695.4 L503.9,694.0 L504.3,692.5 L504.7,691.1 L505.1,689.6 L505.5,688.2 L505.9,686.7 L506.3,685.3 L506.7,683.8 L507.1,682.4 L507.5,680.9 L507.9,679.5 L508.3,678.1 L508.7,676.6 L509.1,675.2 L509.5,673.7 L509.9,672.3 L510.3,670.8 L510.7,669.4 L511.1,668.0 L511.5,666.5 L512.0,665.1 L512.4,663.6 L512.8,662.2 L513.2,660.8 L513.7,659.3 L514.1,657.9 L514.6,656.5 L515.0,655.1 L515.5,653.6 L516.0,652.2 L516.5,650.8 L517.0,649.4 L517.5,648.0 L518.0,646.6 L518.6,645.2 L519.1,643.8 L519.7,642.4 L520.3,641.0 L520.9,639.7 L521.6,638.3 L522.2,637.0 L522.9,635.6 L523.6,634.3 L524.3,632.9 L525.1,631.6 L525.9,630.3 L526.7,629.0 L527.5,627.7 L528.4,626.5 L529.3,625.2 L530.2,623.9 L531.2,622.7 L532.2,621.6 L533.2,620.5 L534.3,619.5 L535.4,618.7 L536.5,618.1 L537.7,617.7 L539.0,617.5 L540.3,617.5 L541.6,617.8 L543.0,618.2 L544.3,618.9 L545.6,619.7 L546.9,620.6 L548.1,621.7 L549.3,622.8 L550.3,624.0 L551.3,625.2 L552.2,626.5 L553.0,627.8 L553.8,629.1 L554.5,630.5 L555.2,631.8 L555.9,633.2 L556.6,634.5 L557.2,635.9 L557.9,637.2 L558.5,638.6 L559.1,640.0 L559.7,641.3 L560.3,642.7 L560.8,644.1 L561.4,645.5 L561.9,646.9 L562.4,648.3 L563.0,649.7 L563.5,651.1 L564.0,652.5 L564.4,653.9 L564.9,655.3 L565.4,656.7 L565.9,658.1 L566.3,659.5 L566.8,660.9 L567.3,662.4 L567.7,663.8 L568.1,665.2 L568.6,666.6 L569.0,668.1 L569.5,669.5 L569.9,670.9 L570.3,672.4 L570.7,673.8 L571.1,675.2 L571.5,676.7 L571.9,678.1 L572.3,679.6 L572.7,681.0 L573.1,682.4 L573.5,683.9 L573.9,685.3 L574.3,686.8 L574.7,688.2 L575.0,689.7 L575.4,691.1 L575.8,692.6 L576.2,694.0 L576.5,695.5 L576.9,697.0 L577.3,698.4 L577.6,699.9 L578.0,701.3 L578.3,702.8 L578.7,704.3 L579.0,705.7 L579.4,707.2 L579.8,708.6 L580.1,710.1 L580.5,711.6 L580.8,713.0 L581.1,714.5 L581.5,716.0 L581.8,717.4 L582.2,718.9 L582.5,720.3 L582.9,721.8 L583.2,723.3 L583.6,724.7 L583.9,726.2 L584.3,727.7 L584.6,729.1 L584.9,730.6 L585.3,732.0 L585.6,733.5 L586.0,735.0 L586.3,736.4 L586.7,737.9 L587.0,739.3 L587.4,740.8 L587.8,742.3 L588.1,743.7 L588.5,745.2 L588.8,746.6 L589.2,748.1 L589.6,749.5 L589.9,751.0 L590.3,752.4 L590.7,753.9 L591.0,755.3 L591.4,756.8 L591.8,758.2 L592.1,759.7 L592.5,761.1 L592.9,762.5 L593.3,764.0 L593.7,765.4 L594.0,766.9 L594.4,768.3 L594.8,769.8 L595.2,771.2 L595.6,772.6 L595.9,774.1 L596.3,775.5 L596.7,777.0 L597.1,778.4 L597.5,779.9 L597.9,781.3 L598.2,782.8 L598.6,784.2 L599.0,785.6 L599.4,787.1 L599.8,788.5 L600.1,790.0 L600.5,791.4 L600.9,792.9 L601.3,794.3 L601.7,795.8 L602.0,797.2 L602.4,798.7 L602.8,800.1 L603.2,801.6 L603.5,803.1 L603.9,804.5 L604.3,806.0 L604.6,807.4 L605.0,808.9 L605.4,810.4 L605.7,811.8 L606.1,813.3 L606.4,814.8 L606.8,816.2 L607.1,817.7 L607.5,819.2 L607.8,820.7 L608.2,822.1 L608.5,823.6 L608.9,825.1 L609.3,826.6 L609.6,828.0 L610.0,829.5 L610.4,830.9 L610.8,832.4 L611.3,833.8 L611.7,835.2 L612.2,836.7 L612.7,838.1 L613.2,839.5 L613.7,840.9 L614.3,842.2 L614.9,843.6 L615.6,844.9 L616.2,846.2 L616.9,847.5 L617.7,848.8 L618.5,850.0 L619.3,851.3 L620.2,852.5 L621.1,853.7 L622.1,854.8 L623.1,856.0 L624.2,857.1 L625.3,858.1 L626.5,859.1 L627.7,860.1 L628.9,860.9 L630.3,861.7 L631.6,862.4 L633.0,863.0 L634.4,863.5 L635.9,863.8 L637.4,864.1 L638.9,864.4 L640.4,864.6 L641.9,864.8 L643.4,864.9 L644.9,865.1 L646.4,865.3 L647.8,865.6 L649.2,865.8 L650.6,866.2 L652.0,866.6 L653.4,867.0 L654.7,867.5 L656.0,868.1 L657.3,868.7 L658.6,869.4 L659.9,870.2 L661.1,871.1 L662.4,872.0 L663.6,873.0 L664.9,874.0 L666.1,875.1 L667.3,876.1 L668.6,877.2 L669.8,878.2 L671.0,879.3 L672.2,880.3 L673.5,881.3 L674.7,882.3 L675.9,883.2 L677.2,884.0 L678.4,884.8 L679.7,885.5 L680.9,886.1 L682.2,886.6 L683.5,887.0 L684.8,887.3 L686.1,887.4 L687.5,887.4 L688.8,887.3 L690.2,887.0 L691.6,886.7 L693.0,886.2 L694.4,885.6 L695.8,885.0 L697.2,884.3 L698.7,883.6 L700.1,882.8 L701.5,882.0 L702.9,881.2 L704.4,880.5 L705.8,879.7 L707.2,879.0 L708.6,878.3 L710.0,877.7 L711.4,877.1 L712.8,876.6 L714.2,876.1 L715.6,875.6 L717.0,875.2 L718.5,874.8 L719.9,874.5 L721.3,874.3 L722.8,874.1 L724.3,873.9 L725.8,873.8 L727.3,873.8 L728.8,873.8 L730.3,873.8 L731.9,873.8 L733.4,873.8 L734.9,873.9 L736.5,873.9 L738.0,873.9 L739.5,873.9 L741.0,873.9 L742.5,873.8 L744.0,873.6 L745.5,873.4 L747.0,873.2 L748.4,872.8 L749.8,872.4 L751.2,872.0 L752.6,871.4 L754.0,870.8 L755.3,870.2 L756.6,869.5 L758.0,868.8 L759.3,868.1 L760.6,867.3 L761.9,866.5 L763.2,865.6 L764.5,864.8 L765.7,863.9 L767.0,863.0 L768.3,862.2 L769.6,861.3 L770.9,860.4 L772.2,859.6 L773.5,858.8 L774.8,857.9 L776.1,857.2 L777.4,856.4 L778.7,855.7 L780.1,855.0 L781.4,854.4 L782.8,853.7 L784.1,853.2 L785.5,852.7 L786.9,852.2 L788.3,851.7 L789.7,851.3 L791.1,850.9 L792.6,850.5 L794.0,850.2 L795.4,849.9 L796.9,849.7 L798.3,849.5 L799.8,849.3 L801.2,849.1 L802.7,849.0 L804.1,848.9 L805.6,848.9 L807.1,848.8 L808.6,848.8 L810.0,848.8 L811.5,848.9 L813.0,849.0 L814.5,849.1 L815.9,849.2 L817.4,849.4 L818.9,849.6 L820.4,849.8 L821.8,850.0 L823.3,850.3 L824.8,850.6 L826.2,850.9 L827.7,851.2 L829.2,851.5 L830.6,851.9 L832.1,852.3 L833.5,852.7 L834.9,853.2 L836.4,853.6 L837.8,854.1 L839.2,854.6 L840.7,855.1 L842.1,855.6 L843.5,856.1 L844.9,856.7 L846.3,857.2 L847.7,857.8 L849.1,858.4 L850.5,859.0 L851.9,859.6 L853.3,860.2 L854.7,860.8 L856.1,861.4 L857.5,862.1 L858.8,862.7 L860.2,863.4 L861.6,864.1 L863.0,864.7 L864.3,865.4 L865.7,866.1 L867.0,866.7 L868.4,867.4 L869.8,868.1 L871.1,868.8 L872.5,869.5 L873.8,870.1 L875.1,870.8 L876.5,871.5 L877.8,872.2 L879.2,872.8 L880.5,873.5 L881.8,874.2 L883.1,874.8 L884.5,875.5 L885.8,876.1 L887.1,876.8 L888.5,877.4 L889.8,878.0 L891.1,878.7 L892.5,879.3 L893.8,879.9 L895.1,880.5 L896.5,881.2 L897.8,881.8 L899.2,882.4 L900.5,883.0 L901.9,883.6 L903.3,884.1 L904.6,884.7 L906.0,885.3 L907.4,885.9 L908.8,886.4 L910.2,887.0 L911.6,887.6 L913.1,888.1 L914.5,888.6 L915.9,889.2 L917.4,889.7 L918.8,890.2 L920.3,890.7 L921.8,891.2 L923.3,891.7 L924.7,892.0 L926.2,892.4 L927.7,892.6 L929.1,892.8 L930.6,892.9 L932.0,892.8 L933.4,892.7 L934.8,892.4 L936.1,892.1 L937.5,891.6 L938.8,891.1 L940.1,890.5 L941.4,889.9 L942.8,889.1 L944.0,888.4 L945.3,887.6 L946.6,886.7 L947.9,885.8 L949.2,884.9 L950.5,884.0 L951.8,883.1 L953.1,882.2 L954.4,881.3 L955.7,880.4 L957.0,879.5 L958.3,878.6 L959.6,877.8 L961.0,877.0 L962.3,876.2 L963.7,875.4 L965.1,874.7 L966.4,874.0 L967.8,873.4 L969.2,872.7 L970.6,872.1 L972.0,871.5 L973.4,871.0 L974.8,870.5 L976.2,870.0 L977.7,869.5 L979.1,869.1 L980.5,868.7 L981.9,868.3 L983.4,868.0 L984.8,867.7 L986.3,867.4 L987.7,867.2 L989.2,866.9 L990.6,866.8 L992.1,866.6 L993.5,866.5 L995.0,866.4 L996.4,866.3 L997.9,866.3 L999.3,866.3 L1000.8,866.4 L1002.2,866.4 L1003.7,866.6 L1005.1,866.7 L1006.6,866.9 L1008.0,867.1 L1009.5,867.3 L1010.9,867.6 L1012.4,867.9 L1013.8,868.3 L1015.2,868.7 L1016.7,869.1 L1018.1,869.5 L1019.5,870.0 L1020.9,870.6 L1022.4,871.1 L1023.8,871.7 L1025.2,872.3 L1026.6,872.9 L1028.0,873.5 L1029.4,874.1 L1030.8,874.8 L1032.2,875.4 L1033.6,876.1 L1035.0,876.7 L1036.4,877.3 L1037.8,878.0 L1039.2,878.6 L1040.6,879.2 L1042.0,879.8 L1043.4,880.4 L1044.9,880.9 L1046.3,881.4 L1047.7,881.9 L1049.1,882.4 L1050.6,882.9 L1052.0,883.3 L1053.4,883.7 L1054.9,884.1 L1056.3,884.5 L1057.8,884.9 L1059.2,885.3 L1060.7,885.6 L1062.1,885.9 L1063.6,886.3 L1065.0,886.6 L1066.5,886.9 L1067.9,887.2 L1069.4,887.5 L1070.9,887.8 L1072.3,888.1 L1073.8,888.4 L1075.3,888.6 L1076.8,888.9 L1078.2,889.2 L1079.7,889.4 L1081.2,889.7 L1082.7,889.9 L1084.2,890.1 L1085.7,890.3 L1087.1,890.5 L1088.6,890.7 L1090.1,890.9 L1091.6,891.1 L1093.1,891.2 L1094.6,891.3 L1096.0,891.4 L1097.5,891.5 L1099.0,891.5 L1100.5,891.6 L1102.0,891.6 L1103.4,891.6 L1104.9,891.5 L1106.4,891.4 L1107.9,891.4 L1109.3,891.2 L1110.8,891.1 L1112.3,890.9 L1113.7,890.7 L1115.2,890.4 L1116.6,890.1 L1118.1,889.8 L1119.5,889.4 L1121.0,889.0 L1122.4,888.6 L1123.9,888.1 L1125.3,887.6 L1126.7,887.1 L1128.2,886.5 L1129.6,885.9 L1131.0,885.3 L1132.4,884.7 L1133.9,884.1 L1135.3,883.5 L1136.7,883.0 L1138.2,882.4 L1139.6,881.9 L1141.1,881.5 L1142.5,881.1 L1144.0,880.7 L1145.5,880.3 L1146.9,880.1 L1148.4,879.8 L1149.9,879.6 L1151.4,879.4 L1152.9,879.3 L1154.4,879.2 L1155.8,879.2 L1157.3,879.2 L1158.8,879.2 L1160.3,879.3 L1161.8,879.4 L1163.3,879.5 L1164.8,879.7 L1166.3,879.9 L1167.8,880.1 L1169.2,880.4 L1170.7,880.7 L1172.2,881.0 L1173.7,881.4 L1175.1,881.7 L1176.6,882.2 L1178.0,882.6 L1179.4,883.1 L1180.9,883.6 L1182.3,884.1 L1183.7,884.6 L1185.1,885.2 L1186.5,885.7 L1187.9,886.3 L1189.3,886.9 L1190.7,887.5 L1192.1,888.1 L1193.5,888.7 L1194.8,889.3 L1196.2,889.9 L1197.6,890.5 L1199.0,891.1 L1200.4,891.7 L1201.8,892.2 L1203.1,892.8 L1204.5,893.3 L1205.9,893.7 L1207.3,894.2 L1208.7,894.6 L1210.2,895.0 L1211.6,895.3 L1213.0,895.6 L1214.4,895.9 L1215.9,896.1 L1217.4,896.3 L1218.8,896.4 L1220.3,896.4 L1221.8,896.5 L1223.3,896.4 L1224.8,896.3 L1226.3,896.2 L1227.9,896.1 L1229.4,895.9 L1230.9,895.7 L1232.4,895.5 L1234.0,895.3 L1235.5,895.0 L1237.0,894.8 L1238.5,894.5 L1240.1,894.2 L1241.6,894.0 L1243.1,893.7 L1244.6,893.5 L1246.1,893.2 L1247.6,893.0 L1249.0,892.7 L1250.5,892.5 L1252.0,892.3 L1253.5,892.1 L1254.9,891.9 L1256.4,891.8 L1257.9,891.6 L1259.3,891.5 L1260.8,891.3 L1262.2,891.2 L1263.7,891.1 L1265.2,891.1 L1266.6,891.0 L1268.1,891.0 L1269.6,891.0 L1271.0,891.0 L1272.5,891.0 L1274.0,891.0 L1275.5,891.1 L1277.0,891.2 L1278.5,891.3 L1280.0,891.5 L1281.5,891.6 L1283.0,891.8 L1284.5,892.1 L1286.0,892.3 L1287.6,892.6 L1289.1,892.9 L1290.7,893.3" stroke-width="5.2"/>
<path d="M216.3,1077.0 L217.7,1076.5 L219.1,1075.9 L220.5,1075.4 L221.9,1074.8 L223.2,1074.2 L224.6,1073.6 L226.0,1073.0 L227.4,1072.4 L228.8,1071.8 L230.2,1071.2 L231.6,1070.6 L233.0,1070.1 L234.4,1069.6 L235.8,1069.0 L237.3,1068.6 L238.7,1068.1 L240.1,1067.7 L241.5,1067.4 L242.9,1067.1 L244.4,1066.8 L245.8,1066.6 L247.2,1066.5 L248.7,1066.4 L250.1,1066.4 L251.5,1066.4 L253.0,1066.6 L254.4,1066.8 L255.9,1067.1 L257.4,1067.5 L258.8,1068.0 L260.3,1068.5 L261.8,1069.1 L263.2,1069.7 L264.7,1070.4 L266.2,1071.1 L267.6,1071.8 L269.1,1072.4 L270.6,1073.1 L272.0,1073.7 L273.5,1074.2 L274.9,1074.6 L276.3,1075.0 L277.7,1075.3 L279.1,1075.4 L280.5,1075.4 L281.9,1075.3 L283.2,1075.0 L284.6,1074.5 L285.9,1074.0 L287.2,1073.3 L288.6,1072.5 L289.9,1071.7 L291.2,1070.8 L292.5,1069.9 L293.8,1069.0 L295.1,1068.1 L296.5,1067.2 L297.8,1066.4 L299.2,1065.6 L300.5,1064.9 L301.9,1064.3 L303.3,1063.7 L304.7,1063.3 L306.1,1063.0 L307.6,1062.7 L309.0,1062.6 L310.4,1062.5 L311.9,1062.5 L313.4,1062.6 L314.8,1062.8 L316.3,1063.0 L317.7,1063.4 L319.2,1063.7 L320.7,1064.2 L322.1,1064.7 L323.6,1065.3 L325.0,1066.0 L326.5,1066.7 L327.9,1067.5 L329.3,1068.3 L330.8,1069.2 L332.2,1070.0 L333.5,1070.8 L334.9,1071.6 L336.2,1072.3 L337.6,1072.8 L338.9,1073.3 L340.1,1073.5 L341.4,1073.6 L342.6,1073.5 L343.8,1073.2 L345.0,1072.7 L346.1,1072.1 L347.3,1071.3 L348.4,1070.4 L349.5,1069.4 L350.6,1068.4 L351.6,1067.2 L352.7,1066.0 L353.7,1064.7 L354.7,1063.4 L355.7,1062.1 L356.7,1060.7 L357.7,1059.4 L358.7,1058.1 L359.7,1056.9 L360.7,1055.7 L361.7,1054.5 L362.7,1053.4 L363.7,1052.3 L364.7,1051.2 L365.8,1050.2 L366.8,1049.3 L367.9,1048.3 L369.0,1047.4 L370.2,1046.5 L371.4,1045.6 L372.6,1044.7 L373.8,1043.8 L375.2,1042.9 L376.5,1042.1 L377.9,1041.5 L379.3,1040.9 L380.7,1040.5 L382.1,1040.3 L383.5,1040.3 L384.9,1040.5 L386.3,1040.9 L387.7,1041.5 L389.1,1042.2 L390.4,1043.0 L391.7,1043.9 L392.9,1044.9 L394.1,1045.9 L395.2,1046.9 L396.2,1047.9 L397.2,1049.0 L398.2,1050.1 L399.1,1051.2 L400.0,1052.4 L400.8,1053.6 L401.6,1054.9 L402.3,1056.3 L403.1,1057.7 L403.8,1059.2 L404.5,1060.8 L405.1,1062.5 L405.8,1064.2 L406.4,1066.0 L407.1,1067.8 L407.7,1069.5 L408.4,1071.1 L409.1,1072.5 L409.9,1073.7 L410.7,1074.7 L411.5,1075.4 L412.4,1075.8 L413.4,1075.7 L414.5,1075.3 L415.6,1074.6 L416.7,1073.6 L417.8,1072.4 L419.0,1071.1 L420.0,1069.7 L421.0,1068.3 L422.0,1066.8 L422.9,1065.4 L423.7,1064.1 L424.4,1062.7 L425.2,1061.3 L425.8,1060.0 L426.5,1058.6 L427.1,1057.3 L427.7,1055.9 L428.3,1054.6 L428.8,1053.3 L429.4,1051.9 L429.9,1050.6 L430.5,1049.2 L431.1,1047.9 L431.7,1046.5 L432.3,1045.2 L432.9,1043.8 L433.5,1042.4 L434.1,1041.1 L434.8,1039.7 L435.5,1038.4 L436.1,1037.0 L436.8,1035.7 L437.6,1034.4 L438.3,1033.1 L439.0,1031.7 L439.8,1030.4 L440.6,1029.2 L441.4,1027.9 L442.2,1026.6 L443.1,1025.4 L444.0,1024.2 L444.9,1023.0 L445.8,1021.8 L446.7,1020.6 L447.7,1019.5 L448.7,1018.4 L449.7,1017.3 L450.8,1016.2 L451.8,1015.2 L452.9,1014.2 L454.1,1013.2 L455.2,1012.3 L456.4,1011.3 L457.7,1010.5 L458.9,1009.6 L460.2,1008.8 L461.5,1008.1 L462.9,1007.3 L464.2,1006.6 L465.6,1006.0 L467.0,1005.3 L468.3,1004.6 L469.6,1003.8 L470.9,1003.0 L472.0,1002.2 L473.1,1001.2 L474.1,1000.2 L475.0,999.1 L475.8,997.9 L476.6,996.6 L477.3,995.3 L477.9,994.0 L478.5,992.6 L479.0,991.2 L479.6,989.7 L480.1,988.3" stroke-width="4.8" stroke-linecap="round" stroke-dasharray="8 13.8" stroke-dashoffset="21.17"/>
<path d="M480.1,988.3 L480.6,986.8 L481.1,985.4 L481.6,984.0 L482.1,982.5 L482.6,981.1 L483.1,979.6 L483.5,978.2 L484.0,976.7 L484.5,975.3 L484.9,973.8 L485.4,972.4 L485.8,970.9 L486.3,969.5 L486.7,968.0 L487.1,966.6 L487.5,965.1 L487.9,963.7 L488.4,962.2 L488.8,960.8 L489.2,959.3 L489.6,957.9 L489.9,956.4 L490.3,955.0 L490.7,953.5 L491.1,952.1 L491.5,950.6 L491.8,949.1 L492.2,947.7 L492.5,946.2 L492.9,944.8 L493.2,943.3 L493.6,941.8 L493.9,940.4 L494.3,938.9 L494.6,937.5 L494.9,936.0 L495.3,934.5 L495.6,933.1 L495.9,931.6 L496.2,930.1 L496.5,928.7 L496.9,927.2 L497.2,925.8 L497.5,924.3 L497.8,922.8 L498.1,921.4 L498.4,919.9 L498.7,918.4 L499.0,917.0 L499.3,915.5 L499.6,914.0 L499.9,912.6 L500.1,911.1 L500.4,909.6 L500.7,908.2 L501.0,906.7 L501.3,905.2 L501.6,903.8 L501.8,902.3 L502.1,900.8 L502.4,899.4 L502.7,897.9 L503.0,896.4 L503.2,895.0 L503.5,893.5 L503.8,892.0 L504.1,890.6 L504.3,889.1 L504.6,887.6 L504.9,886.2 L505.2,884.7 L505.4,883.2 L505.7,881.8 L506.0,880.3 L506.3,878.8 L506.6,877.3 L506.8,875.9 L507.1,874.4 L507.4,872.9 L507.7,871.5 L508.0,870.0 L508.3,868.5 L508.6,867.1 L508.8,865.6 L509.1,864.2 L509.4,862.7 L509.7,861.2 L510.0,859.8 L510.3,858.3 L510.6,856.8 L510.9,855.4 L511.2,853.9 L511.5,852.4 L511.8,851.0 L512.2,849.5 L512.5,848.1 L512.8,846.6 L513.1,845.1 L513.4,843.7 L513.8,842.2 L514.1,840.8 L514.4,839.3 L514.8,837.8 L515.1,836.4 L515.5,834.9 L515.8,833.5 L516.2,832.0 L516.5,830.5 L516.9,829.1 L517.3,827.6 L517.6,826.2 L518.0,824.7 L518.4,823.3 L518.8,821.8 L519.2,820.4 L519.6,818.9 L520.0,817.5 L520.4,816.0 L520.8,814.6 L521.2,813.1 L521.6,811.7 L522.1,810.2 L522.5,808.8 L522.9,807.3 L523.4,805.9 L523.8,804.4 L524.3,803.0 L524.8,801.6 L525.2,800.1 L525.7,798.7 L526.2,797.2 L526.7,795.8 L527.2,794.3 L527.7,792.9 L528.2,791.5 L528.7,790.0 L529.2,788.6 L529.8,787.2 L530.3,785.7 L530.8,784.3 L531.4,782.9 L532.0,781.4 L532.5,780.0 L533.1,778.6 L533.7,777.2 L534.3,775.7 L534.9,774.3 L535.5,772.9 L536.1,771.5 L536.8,770.1 L537.4,768.7 L538.1,767.4 L538.8,766.1 L539.6,764.9 L540.4,763.8 L541.3,762.8 L542.3,762.0 L543.3,761.2 L544.4,760.6 L545.6,760.2 L546.9,760.0 L548.3,759.9 L549.8,760.0 L551.2,760.4 L552.6,761.0 L553.8,761.9 L554.8,763.0 L555.7,764.2 L556.6,765.5 L557.3,766.9 L558.0,768.3 L558.6,769.6 L559.2,771.0 L559.8,772.4 L560.3,773.8 L560.8,775.3 L561.3,776.7 L561.8,778.1 L562.2,779.5 L562.7,781.0 L563.1,782.4 L563.6,783.8 L564.1,785.3 L564.5,786.7 L564.9,788.1 L565.4,789.6 L565.8,791.0 L566.2,792.4 L566.6,793.9 L567.1,795.3 L567.5,796.8 L567.9,798.2 L568.3,799.7 L568.7,801.1 L569.1,802.6 L569.5,804.0 L569.8,805.5 L570.2,806.9 L570.6,808.4 L571.0,809.8 L571.4,811.3 L571.7,812.8 L572.1,814.2 L572.4,815.7 L572.8,817.1 L573.2,818.6 L573.5,820.1 L573.9,821.5 L574.2,823.0 L574.5,824.5 L574.9,825.9 L575.2,827.4 L575.5,828.9 L575.9,830.3 L576.2,831.8 L576.5,833.3 L576.8,834.7 L577.2,836.2 L577.5,837.7 L577.8,839.2 L578.1,840.6 L578.4,842.1 L578.7,843.6 L579.0,845.1 L579.3,846.5 L579.6,848.0 L579.9,849.5 L580.2,850.9 L580.5,852.4 L580.8,853.9 L581.1,855.4 L581.4,856.8 L581.7,858.3 L582.0,859.8 L582.3,861.3 L582.6,862.7 L582.9,864.2 L583.2,865.7 L583.5,867.2 L583.7,868.6 L584.0,870.1 L584.3,871.6 L584.6,873.1 L584.9,874.5 L585.2,876.0 L585.4,877.5 L585.7,878.9 L586.0,880.4 L586.3,881.9 L586.6,883.4 L586.9,884.8 L587.1,886.3 L587.4,887.8 L587.7,889.2 L588.0,890.7 L588.3,892.2 L588.6,893.6 L588.9,895.1 L589.1,896.6 L589.4,898.0 L589.7,899.5 L590.0,901.0 L590.3,902.4 L590.6,903.9 L590.9,905.3 L591.1,906.8 L591.4,908.3 L591.7,909.7 L592.0,911.2 L592.3,912.7 L592.6,914.1 L592.9,915.6 L593.2,917.0 L593.5,918.5 L593.7,920.0 L594.0,921.4 L594.3,922.9 L594.6,924.3 L594.9,925.8 L595.2,927.3 L595.5,928.7 L595.8,930.2 L596.1,931.6 L596.4,933.1 L596.7,934.6 L597.0,936.0 L597.3,937.5 L597.6,938.9 L597.9,940.4 L598.2,941.9 L598.5,943.3 L598.8,944.8 L599.1,946.3 L599.4,947.7 L599.7,949.2 L600.0,950.7 L600.3,952.1 L600.6,953.6 L600.9,955.0 L601.2,956.5 L601.5,958.0 L601.8,959.4 L602.1,960.9 L602.4,962.4 L602.7,963.9 L603.0,965.3 L603.3,966.8 L603.7,968.3 L604.0,969.7 L604.3,971.2 L604.6,972.7 L604.9,974.2 L605.2,975.6 L605.5,977.1 L605.8,978.6 L606.2,980.1 L606.5,981.5 L606.8,983.0 L607.1,984.5 L607.4,986.0 L607.8,987.5 L608.1,989.0 L608.4,990.4 L608.7,991.9 L609.0,993.4 L609.4,994.9 L609.7,996.4 L610.0,997.9 L610.3,999.4 L610.7,1000.9 L611.0,1002.4 L611.3,1003.9 L611.7,1005.4 L612.0,1006.9 L612.3,1008.4 L612.6,1009.9 L613.0,1011.4 L613.3,1012.9 L613.7,1014.4 L614.0,1015.9 L614.3,1017.4 L614.7,1018.9 L615.0,1020.4" stroke-width="4.8" stroke-linecap="round" stroke-dasharray="8 13.8" stroke-dashoffset="1.48"/>
<path d="M615.0,1020.4 L615.4,1021.9 L615.8,1023.3 L616.2,1024.8 L616.6,1026.3 L617.0,1027.7 L617.5,1029.1 L618.0,1030.6 L618.5,1032.0 L619.0,1033.3 L619.5,1034.7 L620.1,1036.0 L620.7,1037.3 L621.4,1038.6 L622.0,1039.9 L622.7,1041.1 L623.5,1042.4 L624.3,1043.5 L625.1,1044.7 L626.0,1045.8 L626.9,1046.9 L627.9,1047.9 L628.9,1048.9 L630.0,1049.9 L631.1,1050.8 L632.2,1051.7 L633.5,1052.5 L634.7,1053.3 L636.0,1054.1 L637.3,1054.9 L638.7,1055.6 L640.0,1056.3 L641.4,1057.0 L642.8,1057.8 L644.1,1058.5 L645.5,1059.2 L646.8,1059.9 L648.2,1060.6 L649.4,1061.4 L650.7,1062.2 L652.0,1062.9 L653.2,1063.8 L654.4,1064.6 L655.6,1065.5 L656.7,1066.4 L657.9,1067.3 L659.0,1068.3 L660.1,1069.3 L661.2,1070.3 L662.3,1071.4 L663.4,1072.5 L664.5,1073.7 L665.6,1074.9 L666.7,1076.2 L667.8,1077.4 L669.0,1078.5 L670.1,1079.5 L671.3,1080.2 L672.5,1080.6 L673.7,1080.7 L674.9,1080.3 L676.2,1079.7 L677.5,1078.9 L678.7,1077.9 L680.0,1076.8 L681.2,1075.7 L682.4,1074.6 L683.6,1073.4 L684.8,1072.3 L685.9,1071.2 L687.1,1070.2 L688.2,1069.1 L689.3,1068.1 L690.4,1067.0 L691.5,1066.0 L692.6,1065.1 L693.8,1064.1 L694.9,1063.2 L696.1,1062.3 L697.3,1061.5 L698.5,1060.7 L699.7,1059.9 L701.0,1059.1 L702.3,1058.4 L703.6,1057.8 L704.9,1057.1 L706.2,1056.5 L707.6,1055.9 L709.0,1055.4 L710.4,1054.8 L711.8,1054.3 L713.2,1053.8 L714.6,1053.3 L716.1,1052.9 L717.5,1052.4 L719.0,1051.9 L720.4,1051.5 L721.9,1051.0 L723.3,1050.6 L724.8,1050.2 L726.2,1049.7 L727.7,1049.3 L729.1,1048.9 L730.6,1048.5 L732.0,1048.0 L733.5,1047.6 L734.9,1047.2 L736.4,1046.8 L737.8,1046.3 L739.3,1045.9 L740.7,1045.5 L742.2,1045.1 L743.6,1044.6 L745.1,1044.2 L746.5,1043.7 L747.9,1043.3 L749.4,1042.8 L750.8,1042.3 L752.2,1041.9 L753.6,1041.4 L755.0,1040.9 L756.4,1040.4 L757.8,1039.8 L759.2,1039.3 L760.6,1038.8 L762.0,1038.2 L763.4,1037.6 L764.7,1037.0 L766.1,1036.4 L767.4,1035.8 L768.8,1035.2 L770.1,1034.5 L771.4,1033.9 L772.8,1033.2 L774.1,1032.4 L775.4,1031.7 L776.7,1031.0 L777.9,1030.2 L779.2,1029.4 L780.4,1028.6 L781.7,1027.7 L782.9,1026.9 L784.1,1026.0 L785.4,1025.1 L786.6,1024.2 L787.8,1023.2 L789.0,1022.3 L790.1,1021.3 L791.3,1020.4 L792.5,1019.4 L793.7,1018.4 L794.8,1017.4 L796.0,1016.4 L797.2,1015.4 L798.4,1014.5 L799.5,1013.5 L800.7,1012.5 L801.9,1011.5 L803.0,1010.5 L804.2,1009.5 L805.4,1008.6 L806.6,1007.6 L807.7,1006.7 L808.9,1005.7 L810.1,1004.8 L811.3,1003.9 L812.6,1003.0 L813.8,1002.2 L815.0,1001.3 L816.2,1000.5 L817.5,999.7 L818.8,998.9 L820.0,998.2 L821.3,997.5 L822.6,996.8 L823.9,996.1 L825.3,995.5 L826.6,994.9 L828.0,994.4 L829.3,993.8 L830.7,993.4 L832.1,992.9 L833.6,992.5 L835.0,992.2 L836.5,991.9 L838.0,991.6 L839.5,991.4 L841.0,991.2 L842.5,991.1 L844.0,991.1 L845.5,991.1 L847.0,991.1 L848.5,991.3 L849.9,991.4 L851.4,991.7 L852.9,992.0 L854.3,992.4 L855.7,992.9 L857.0,993.4 L858.4,994.0 L859.7,994.6 L861.0,995.4 L862.3,996.1 L863.5,996.9 L864.8,997.8 L866.0,998.7 L867.2,999.7 L868.3,1000.7 L869.5,1001.7 L870.6,1002.8 L871.7,1003.9 L872.8,1005.0 L873.9,1006.2 L874.9,1007.3 L876.0,1008.5 L877.0,1009.7 L878.0,1010.9 L879.0,1012.1 L880.1,1013.4 L881.1,1014.6 L882.1,1015.8 L883.1,1017.0 L884.1,1018.2 L885.1,1019.4 L886.1,1020.6 L887.1,1021.7 L888.1,1022.8 L889.2,1023.9 L890.2,1025.0 L891.3,1026.1 L892.4,1027.1 L893.5,1028.0 L894.6,1029.0 L895.7,1029.8 L896.9,1030.7 L898.1,1031.4 L899.3,1032.2 L900.6,1032.8" stroke-width="4.8" stroke-linecap="round" stroke-dasharray="8 13.8" stroke-dashoffset="15.07"/>
<path d="M900.6,1032.8 L901.9,1033.4 L903.2,1034.0 L904.5,1034.5 L905.9,1034.9 L907.3,1035.2 L908.8,1035.4 L910.3,1035.6 L911.8,1035.8 L913.3,1035.8 L914.8,1035.8 L916.3,1035.8 L917.9,1035.6 L919.4,1035.5 L921.0,1035.2 L922.5,1034.9 L924.0,1034.6 L925.5,1034.1 L927.0,1033.7 L928.5,1033.2 L929.9,1032.7 L931.4,1032.1 L932.8,1031.5 L934.2,1031.0 L935.6,1030.4 L937.0,1029.8 L938.4,1029.3 L939.9,1028.8 L941.3,1028.4 L942.7,1028.0 L944.1,1027.6 L945.6,1027.4 L947.0,1027.2 L948.5,1027.1 L950.0,1027.1 L951.5,1027.2 L953.0,1027.4 L954.5,1027.7 L956.0,1028.0 L957.5,1028.5 L958.9,1029.0 L960.4,1029.6 L961.8,1030.2 L963.1,1030.9 L964.5,1031.7 L965.7,1032.6 L967.0,1033.5 L968.1,1034.4 L969.3,1035.4 L970.4,1036.5 L971.4,1037.6 L972.4,1038.7 L973.4,1039.8 L974.4,1041.0 L975.4,1042.2 L976.3,1043.3 L977.2,1044.5 L978.2,1045.6 L979.1,1046.8 L980.1,1047.9 L981.0,1049.0 L982.0,1050.1 L983.0,1051.1 L983.9,1052.2 L984.9,1053.2 L985.9,1054.3 L986.9,1055.3 L987.9,1056.4 L988.9,1057.5 L989.9,1058.6 L990.9,1059.7 L991.9,1060.9 L992.9,1062.1 L993.9,1063.3 L994.9,1064.6 L995.9,1066.0 L996.8,1067.4 L997.8,1068.8 L998.7,1070.2 L999.7,1071.7 L1000.7,1073.1 L1001.6,1074.4 L1002.6,1075.7 L1003.7,1076.8 L1004.7,1077.9 L1005.8,1078.8 L1006.9,1079.5 L1008.0,1080.1 L1009.2,1080.4 L1010.4,1080.6 L1011.7,1080.5 L1013.0,1080.2 L1014.3,1079.8 L1015.7,1079.3 L1017.1,1078.6 L1018.5,1077.8 L1019.9,1077.0 L1021.4,1076.1 L1022.8,1075.2 L1024.3,1074.3 L1025.8,1073.5 L1027.3,1072.6 L1028.8,1071.9 L1030.3,1071.2 L1031.8,1070.7 L1033.3,1070.2 L1034.8,1069.9 L1036.2,1069.6 L1037.7,1069.5 L1039.2,1069.4 L1040.6,1069.4 L1042.1,1069.5 L1043.6,1069.6 L1045.0,1069.8 L1046.5,1070.1 L1047.9,1070.4 L1049.4,1070.8 L1050.8,1071.2 L1052.3,1071.6 L1053.7,1072.0 L1055.2,1072.5 L1056.6,1073.0 L1058.1,1073.5 L1059.5,1074.0 L1060.9,1074.6 L1062.4,1075.1 L1063.8,1075.6 L1065.3,1076.0 L1066.7,1076.5 L1068.2,1076.9 L1069.7,1077.3 L1071.1,1077.7 L1072.6,1078.0 L1074.0,1078.3 L1075.5,1078.5 L1077.0,1078.7 L1078.4,1078.9 L1079.9,1079.0 L1081.4,1079.1 L1082.8,1079.2 L1084.3,1079.2 L1085.8,1079.2 L1087.3,1079.2 L1088.7,1079.1 L1090.2,1079.1 L1091.7,1079.0 L1093.2,1078.9 L1094.6,1078.7 L1096.1,1078.6 L1097.6,1078.4 L1099.1,1078.2 L1100.6,1078.0 L1102.0,1077.8 L1103.5,1077.6 L1105.0,1077.3 L1106.5,1077.1 L1107.9,1076.9 L1109.4,1076.6 L1110.9,1076.4 L1112.3,1076.1 L1113.8,1075.9 L1115.2,1075.6 L1116.7,1075.4 L1118.2,1075.2 L1119.6,1074.9 L1121.1,1074.7 L1122.5,1074.5 L1124.0,1074.4 L1125.5,1074.2 L1126.9,1074.1 L1128.4,1074.0 L1129.9,1073.9 L1131.3,1073.9 L1132.8,1073.9 L1134.3,1074.0 L1135.8,1074.1 L1137.3,1074.2 L1138.8,1074.4 L1140.3,1074.6 L1141.8,1074.8 L1143.4,1075.1 L1144.9,1075.4 L1146.4,1075.7 L1147.9,1076.1 L1149.5,1076.4 L1151.0,1076.8 L1152.5,1077.1 L1154.0,1077.4 L1155.6,1077.8 L1157.1,1078.1 L1158.6,1078.3 L1160.1,1078.6 L1161.6,1078.8 L1163.1,1079.0 L1164.5,1079.1 L1166.0,1079.2 L1167.5,1079.3 L1168.9,1079.2 L1170.3,1079.2 L1171.7,1079.0 L1173.2,1078.8 L1174.5,1078.5 L1175.9,1078.1 L1177.3,1077.6 L1178.6,1077.0 L1179.9,1076.4 L1181.2,1075.6 L1182.5,1074.8 L1183.8,1074.0 L1185.1,1073.1 L1186.3,1072.2 L1187.6,1071.2 L1188.9,1070.2 L1190.1,1069.2 L1191.4,1068.3 L1192.7,1067.3 L1194.0,1066.4 L1195.3,1065.5 L1196.6,1064.6 L1197.9,1063.8 L1199.3,1063.1 L1200.7,1062.4 L1202.0,1061.7 L1203.4,1061.1 L1204.8,1060.5 L1206.2,1060.0 L1207.7,1059.6 L1209.1,1059.2 L1210.5,1058.8 L1212.0,1058.5 L1213.4,1058.2 L1214.9,1058.0 L1216.4,1057.9 L1217.8,1057.7 L1219.3,1057.7 L1220.8,1057.6 L1222.3,1057.7 L1223.7,1057.7 L1225.2,1057.8 L1226.7,1058.0 L1228.1,1058.2 L1229.6,1058.5 L1231.1,1058.8 L1232.5,1059.1 L1234.0,1059.5 L1235.5,1059.9 L1236.9,1060.4 L1238.3,1060.9 L1239.8,1061.5 L1241.2,1062.1 L1242.6,1062.7 L1244.0,1063.4 L1245.4,1064.1 L1246.8,1064.7 L1248.2,1065.4 L1249.6,1066.0 L1251.0,1066.6 L1252.4,1067.1 L1253.9,1067.6 L1255.3,1068.0 L1256.7,1068.4 L1258.1,1068.7 L1259.6,1068.9 L1261.0,1068.9 L1262.5,1068.9 L1264.0,1068.8 L1265.5,1068.7 L1266.9,1068.4 L1268.4,1068.1 L1269.9,1067.8 L1271.4,1067.3 L1272.8,1066.9 L1274.3,1066.3 L1275.8,1065.8 L1277.2,1065.2 L1278.6,1064.6 L1280.1,1063.9 L1281.5,1063.2 L1282.8,1062.6 L1284.2,1061.9 L1285.6,1061.2 L1286.9,1060.5 L1288.2,1059.8 L1289.5,1059.1 L1290.7,1058.5" stroke-width="4.8" stroke-linecap="round" stroke-dasharray="8 13.8" stroke-dashoffset="0.65"/>
<path d="M216.3,1260.0 L217.5,1259.4 L218.8,1258.8 L220.0,1258.1 L221.4,1257.5 L222.7,1256.8 L224.0,1256.1 L225.4,1255.3 L226.8,1254.6 L228.2,1253.9 L229.6,1253.3 L231.1,1252.6 L232.5,1252.0 L234.0,1251.5 L235.4,1251.0 L236.9,1250.5 L238.4,1250.1 L239.8,1249.8 L241.3,1249.6 L242.8,1249.4 L244.2,1249.4 L245.7,1249.4 L247.1,1249.5 L248.6,1249.7 L250.0,1249.9 L251.5,1250.2 L252.9,1250.6 L254.4,1251.0 L255.8,1251.4 L257.3,1251.9 L258.7,1252.4 L260.1,1252.9 L261.6,1253.5 L263.0,1254.1 L264.4,1254.7 L265.9,1255.3 L267.3,1255.9 L268.7,1256.5 L270.1,1257.1 L271.5,1257.5 L272.9,1257.9 L274.3,1258.1 L275.7,1258.1 L277.1,1257.9 L278.5,1257.6 L279.8,1257.0 L281.2,1256.4 L282.6,1255.6 L283.9,1254.8 L285.3,1253.9 L286.7,1253.1 L288.0,1252.3 L289.4,1251.5 L290.8,1250.8 L292.2,1250.3 L293.6,1249.8 L295.0,1249.3 L296.4,1249.0 L297.9,1248.7 L299.3,1248.6 L300.7,1248.4 L302.2,1248.4 L303.6,1248.4 L305.1,1248.5 L306.5,1248.6 L308.0,1248.8 L309.5,1249.1 L310.9,1249.4 L312.4,1249.8 L313.9,1250.2 L315.3,1250.6 L316.8,1251.1 L318.3,1251.6 L319.7,1252.1 L321.2,1252.6 L322.6,1253.1 L324.1,1253.5 L325.6,1253.9 L327.0,1254.3 L328.5,1254.6 L329.9,1254.8 L331.3,1254.9 L332.8,1254.9 L334.2,1254.9 L335.6,1254.7 L337.0,1254.3 L338.4,1253.9 L339.8,1253.3 L341.2,1252.7 L342.6,1252.0 L344.0,1251.2 L345.4,1250.4 L346.7,1249.6 L348.1,1248.8 L349.5,1248.0 L350.9,1247.3 L352.3,1246.6 L353.7,1246.1 L355.1,1245.6 L356.5,1245.3 L357.9,1245.1 L359.4,1245.1 L360.8,1245.3 L362.3,1245.6 L363.7,1246.0 L365.2,1246.6 L366.7,1247.1 L368.2,1247.7 L369.7,1248.3 L371.2,1248.8 L372.6,1249.2 L374.1,1249.5 L375.6,1249.6 L377.1,1249.6 L378.5,1249.5 L379.9,1249.2 L381.1,1248.7 L382.3,1248.0 L383.3,1247.2 L384.3,1246.2 L385.2,1245.1 L386.0,1243.8 L386.7,1242.5 L387.4,1241.1 L388.1,1239.7 L388.7,1238.2 L389.3,1236.7 L389.9,1235.2 L390.5,1233.8 L391.1,1232.3 L391.7,1230.9 L392.3,1229.4 L392.9,1228.0 L393.5,1226.6 L394.1,1225.2 L394.7,1223.8 L395.3,1222.4 L395.9,1221.0 L396.5,1219.7 L397.1,1218.3 L397.7,1216.9 L398.3,1215.6 L398.9,1214.2 L399.5,1212.8 L400.1,1211.5 L400.6,1210.2 L401.2,1208.8 L401.8,1207.5 L402.4,1206.1 L403.0,1204.8 L403.6,1203.4 L404.2,1202.1 L404.8,1200.8 L405.3,1199.4 L405.9,1198.1 L406.5,1196.7 L407.1,1195.4 L407.7,1194.0 L408.3,1192.7 L408.9,1191.3 L409.5,1189.9 L410.0,1188.6 L410.6,1187.2 L411.2,1185.8 L411.8,1184.4 L412.4,1183.0 L413.0,1181.6 L413.6,1180.2 L414.2,1178.7 L414.8,1177.3 L415.4,1175.9 L416.0,1174.4 L416.6,1173.0 L417.3,1171.6 L417.9,1170.1 L418.6,1168.7 L419.3,1167.3 L420.0,1166.0 L420.8,1164.6 L421.5,1163.3 L422.3,1162.0 L423.2,1160.7 L424.1,1159.5 L425.0,1158.4 L426.0,1157.2 L427.0,1156.2 L428.1,1155.1 L429.2,1154.2 L430.4,1153.3 L431.6,1152.5 L432.8,1151.9 L434.1,1151.5 L435.3,1151.3 L436.6,1151.5 L437.8,1152.0 L438.9,1152.7 L440.1,1153.5 L441.2,1154.6 L442.2,1155.8 L443.2,1157.0 L444.1,1158.3 L445.0,1159.6 L445.8,1160.9 L446.6,1162.3 L447.3,1163.7 L448.0,1165.0 L448.6,1166.4 L449.2,1167.8 L449.8,1169.3 L450.4,1170.7 L450.9,1172.1 L451.4,1173.6 L451.9,1175.0 L452.3,1176.5 L452.8,1177.9 L453.2,1179.4 L453.7,1180.8 L454.2,1182.3 L454.6,1183.7 L455.1,1185.2 L455.6,1186.6 L456.0,1188.0 L456.5,1189.5 L457.0,1190.9 L457.5,1192.3 L457.9,1193.7 L458.4,1195.0 L458.8,1196.4 L459.2,1197.8 L459.6,1199.1 L459.9,1200.5 L460.3,1201.8 L460.6,1203.1 L460.9,1204.5 L461.1,1205.9 L461.4,1207.2 L461.7,1208.6 L462.0,1210.1 L462.3,1211.6 L462.6,1213.1 L462.9,1214.7 L463.2,1216.4 L463.6,1218.1 L464.0,1219.9 L464.4,1221.8 L464.9,1223.8 L465.4,1225.7 L465.9,1227.7 L466.4,1229.6 L467.0,1231.3 L467.6,1233.0 L468.2,1234.4 L468.7,1235.6 L469.3,1236.6 L469.9,1237.2 L470.5,1237.5" stroke-width="4.9" stroke-linecap="round" stroke-dasharray="13.4 12.3 0.01 12.4" stroke-dashoffset="38.08"/>
<path d="M470.5,1237.5 L471.1,1237.4 L471.6,1236.9 L472.2,1236.1 L472.7,1234.9 L473.2,1233.5 L473.7,1231.9 L474.2,1230.2 L474.7,1228.4 L475.1,1226.6 L475.5,1224.7 L475.9,1223.0 L476.3,1221.3 L476.7,1219.6 L477.0,1218.0 L477.4,1216.4 L477.7,1214.8 L478.0,1213.3 L478.3,1211.8 L478.6,1210.4 L478.8,1208.9 L479.1,1207.5 L479.4,1206.1 L479.6,1204.7 L479.9,1203.2 L480.1,1201.8 L480.4,1200.4 L480.6,1199.0 L480.9,1197.6 L481.1,1196.2 L481.3,1194.8 L481.6,1193.3 L481.8,1191.9 L482.0,1190.4 L482.3,1189.0 L482.5,1187.6 L482.7,1186.1 L483.0,1184.7 L483.2,1183.2 L483.4,1181.7 L483.6,1180.3 L483.8,1178.8 L484.1,1177.3 L484.3,1175.9 L484.5,1174.4 L484.7,1172.9 L484.9,1171.4 L485.1,1169.9 L485.3,1168.5 L485.6,1167.0 L485.8,1165.5 L486.0,1164.0 L486.2,1162.5 L486.4,1161.0 L486.6,1159.5 L486.8,1158.0 L487.0,1156.5 L487.2,1155.0 L487.4,1153.5 L487.6,1152.0 L487.8,1150.5 L488.0,1149.0 L488.2,1147.5 L488.4,1146.0 L488.6,1144.5 L488.8,1143.0 L489.0,1141.5 L489.2,1140.0 L489.4,1138.5 L489.6,1137.0 L489.7,1135.5 L489.9,1134.0 L490.1,1132.5 L490.3,1131.0 L490.5,1129.5 L490.7,1128.0 L490.9,1126.5 L491.1,1125.0 L491.3,1123.5 L491.5,1122.0 L491.6,1120.5 L491.8,1119.0 L492.0,1117.5 L492.2,1116.0 L492.4,1114.6 L492.6,1113.1 L492.8,1111.6 L493.0,1110.1 L493.2,1108.6 L493.3,1107.2 L493.5,1105.7 L493.7,1104.2 L493.9,1102.7 L494.1,1101.2 L494.3,1099.8 L494.5,1098.3 L494.7,1096.8 L494.9,1095.3 L495.1,1093.9 L495.3,1092.4 L495.5,1090.9 L495.7,1089.5 L495.9,1088.0 L496.1,1086.5 L496.3,1085.0 L496.5,1083.6 L496.7,1082.1 L496.9,1080.6 L497.1,1079.2 L497.3,1077.7 L497.5,1076.2 L497.7,1074.7 L498.0,1073.3 L498.2,1071.8 L498.4,1070.3 L498.6,1068.8 L498.8,1067.4 L499.1,1065.9 L499.3,1064.4 L499.5,1062.9 L499.8,1061.4 L500.0,1060.0 L500.2,1058.5 L500.5,1057.0 L500.7,1055.5 L501.0,1054.0 L501.2,1052.5 L501.5,1051.0 L501.7,1049.6 L502.0,1048.1 L502.2,1046.6 L502.5,1045.1 L502.7,1043.6 L503.0,1042.1 L503.3,1040.6 L503.5,1039.1 L503.8,1037.6 L504.1,1036.1 L504.3,1034.6 L504.6,1033.1 L504.9,1031.6 L505.2,1030.2 L505.5,1028.7 L505.7,1027.2 L506.0,1025.7 L506.3,1024.2 L506.6,1022.7 L506.9,1021.2 L507.2,1019.7 L507.5,1018.2 L507.7,1016.8 L508.0,1015.3 L508.3,1013.8 L508.6,1012.3 L508.9,1010.8 L509.2,1009.4 L509.5,1007.9 L509.8,1006.4 L510.1,1005.0 L510.4,1003.5 L510.7,1002.0 L511.0,1000.6 L511.3,999.1 L511.6,997.6 L511.9,996.2 L512.2,994.7 L512.5,993.3 L512.8,991.8 L513.2,990.4 L513.5,989.0 L513.8,987.5 L514.1,986.1 L514.4,984.7 L514.7,983.2 L515.0,981.8 L515.3,980.4 L515.6,979.0 L515.9,977.6 L516.2,976.1 L516.6,974.7 L516.9,973.3 L517.3,971.9 L517.6,970.5 L518.0,969.1 L518.4,967.7 L518.8,966.2 L519.2,964.8 L519.6,963.4 L520.0,961.9 L520.5,960.5 L521.0,959.1 L521.5,957.6 L522.0,956.2 L522.5,954.7 L523.1,953.2 L523.7,951.7 L524.4,950.2 L525.0,948.7 L525.7,947.2 L526.4,945.7 L527.2,944.2 L527.9,942.7 L528.7,941.2 L529.6,939.8 L530.4,938.5 L531.3,937.2 L532.3,936.1 L533.2,935.1 L534.2,934.3 L535.2,933.7 L536.2,933.3 L537.2,933.1 L538.3,933.1 L539.3,933.4 L540.4,933.9 L541.5,934.7 L542.6,935.6 L543.7,936.7 L544.7,937.9 L545.7,939.3 L546.6,940.6 L547.4,942.0 L548.2,943.4 L548.9,944.9 L549.6,946.3 L550.2,947.7 L550.7,949.1 L551.2,950.5 L551.7,952.0 L552.2,953.4 L552.6,954.9 L553.0,956.3 L553.4,957.7 L553.9,959.2 L554.3,960.6 L554.7,962.1 L555.0,963.5 L555.4,965.0 L555.8,966.4 L556.2,967.9 L556.6,969.3 L556.9,970.8 L557.3,972.2 L557.7,973.7 L558.0,975.1 L558.4,976.6 L558.7,978.0 L559.1,979.5 L559.4,981.0 L559.8,982.4 L560.1,983.9 L560.4,985.4 L560.8,986.8 L561.1,988.3 L561.4,989.8 L561.7,991.2 L562.1,992.7 L562.4,994.2 L562.7,995.6 L563.0,997.1 L563.3,998.6 L563.6,1000.0 L563.9,1001.5 L564.2,1003.0 L564.5,1004.4 L564.8,1005.9 L565.1,1007.4 L565.4,1008.9 L565.7,1010.3 L566.0,1011.8 L566.3,1013.3 L566.5,1014.8 L566.8,1016.2 L567.1,1017.7 L567.4,1019.2 L567.7,1020.6 L568.0,1022.1 L568.2,1023.6 L568.5,1025.1 L568.8,1026.5 L569.1,1028.0 L569.4,1029.5 L569.6,1031.0 L569.9,1032.4 L570.2,1033.9 L570.5,1035.4 L570.7,1036.8 L571.0,1038.3 L571.3,1039.8 L571.6,1041.2 L571.8,1042.7 L572.1,1044.2 L572.4,1045.7 L572.6,1047.1 L572.9,1048.6 L573.2,1050.1 L573.5,1051.5 L573.7,1053.0 L574.0,1054.5 L574.3,1056.0 L574.5,1057.4 L574.8,1058.9 L575.1,1060.4 L575.3,1061.8 L575.6,1063.3 L575.9,1064.8 L576.1,1066.2 L576.4,1067.7 L576.7,1069.2 L576.9,1070.7 L577.2,1072.1 L577.5,1073.6 L577.7,1075.1 L578.0,1076.5 L578.2,1078.0 L578.5,1079.5 L578.8,1081.0 L579.0,1082.4 L579.3,1083.9 L579.6,1085.4 L579.8,1086.8 L580.1,1088.3 L580.3,1089.8 L580.6,1091.3 L580.9,1092.7 L581.1,1094.2 L581.4,1095.7 L581.6,1097.2 L581.9,1098.6 L582.1,1100.1 L582.4,1101.6 L582.7,1103.1 L582.9,1104.5 L583.2,1106.0 L583.4,1107.5 L583.7,1109.0 L583.9,1110.4 L584.2,1111.9 L584.5,1113.4 L584.7,1114.9 L585.0,1116.4 L585.2,1117.8 L585.5,1119.3 L585.7,1120.8 L586.0,1122.3 L586.2,1123.8 L586.5,1125.2 L586.7,1126.7 L587.0,1128.2 L587.3,1129.7 L587.5,1131.2 L587.8,1132.7 L588.0,1134.1 L588.3,1135.6 L588.5,1137.1 L588.8,1138.6 L589.0,1140.1 L589.3,1141.6 L589.5,1143.1 L589.8,1144.6 L590.0,1146.0 L590.3,1147.5 L590.6,1149.0 L590.8,1150.5 L591.1,1152.0 L591.3,1153.5 L591.6,1155.0 L591.8,1156.5 L592.1,1158.0 L592.3,1159.5 L592.6,1161.0 L592.8,1162.5 L593.1,1164.0 L593.4,1165.5 L593.6,1166.9 L593.9,1168.4 L594.1,1169.9 L594.4,1171.4 L594.7,1172.9 L594.9,1174.4 L595.2,1175.8 L595.5,1177.3 L595.8,1178.8 L596.0,1180.3 L596.3,1181.7 L596.6,1183.2 L596.9,1184.6 L597.2,1186.1 L597.5,1187.5 L597.8,1189.0 L598.1,1190.4 L598.4,1191.8 L598.8,1193.3 L599.1,1194.7 L599.4,1196.1 L599.7,1197.5 L600.1,1198.9 L600.4,1200.3 L600.8,1201.7 L601.2,1203.0 L601.5,1204.4 L601.9,1205.7 L602.3,1207.1 L602.6,1208.5 L603.0,1209.8 L603.4,1211.2 L603.8,1212.6 L604.2,1214.0 L604.5,1215.4 L604.9,1216.9 L605.3,1218.4 L605.6,1219.9 L606.0,1221.5 L606.3,1223.1 L606.6,1224.8 L606.9,1226.5 L607.2,1228.3 L607.5,1230.1 L607.8,1232.0 L608.0,1233.9 L608.3,1235.8 L608.6,1237.7 L608.8,1239.6 L609.2,1241.4 L609.5,1243.2 L609.9,1244.9 L610.3,1246.5 L610.8,1248.1 L611.3,1249.5 L611.9,1250.7 L612.5,1251.9" stroke-width="4.9" stroke-linecap="round" stroke-dasharray="13.4 12.3 0.01 12.4" stroke-dashoffset="12.66"/>
<path d="M612.5,1251.9 L613.2,1252.8 L614.0,1253.5 L614.9,1254.1 L615.9,1254.4 L617.0,1254.5 L618.2,1254.3 L619.4,1254.0 L620.7,1253.4 L621.9,1252.6 L623.2,1251.6 L624.3,1250.5 L625.4,1249.3 L626.5,1248.0 L627.5,1246.7 L628.6,1245.4 L629.6,1244.3 L630.7,1243.2 L631.9,1242.3 L633.1,1241.6 L634.4,1241.1 L635.7,1240.7 L637.0,1240.4 L638.4,1240.2 L639.8,1240.1 L641.2,1240.0 L642.7,1240.0 L644.2,1240.0 L645.7,1239.9 L647.2,1239.9 L648.7,1239.7 L650.1,1239.5 L651.6,1239.2 L653.1,1238.9 L654.6,1238.5 L656.0,1238.0 L657.5,1237.5 L659.0,1236.9 L660.4,1236.4 L661.9,1235.7 L663.3,1235.1 L664.8,1234.5 L666.2,1233.8 L667.6,1233.2 L669.0,1232.5 L670.5,1231.9 L671.9,1231.3 L673.3,1230.8 L674.7,1230.2 L676.1,1229.8 L677.5,1229.3 L678.9,1229.0 L680.2,1228.7 L681.6,1228.4 L683.0,1228.3 L684.4,1228.2 L685.7,1228.3 L687.1,1228.4 L688.4,1228.6 L689.8,1229.0 L691.1,1229.4 L692.4,1229.8 L693.8,1230.4 L695.1,1231.0 L696.4,1231.7 L697.7,1232.5 L699.0,1233.3 L700.3,1234.1 L701.6,1235.0 L702.8,1235.9 L704.1,1236.9 L705.4,1237.8 L706.6,1238.8 L707.9,1239.8 L709.1,1240.8 L710.3,1241.8 L711.5,1242.8 L712.7,1243.8 L714.0,1244.7 L715.2,1245.6 L716.4,1246.5 L717.6,1247.3 L718.9,1248.0 L720.1,1248.6 L721.4,1249.2 L722.7,1249.6 L724.0,1249.9 L725.3,1250.1 L726.7,1250.2 L728.1,1250.2 L729.5,1250.0 L730.9,1249.7 L732.4,1249.4 L733.9,1248.9 L735.3,1248.5 L736.8,1248.0 L738.4,1247.5 L739.9,1247.0 L741.4,1246.5 L742.9,1246.0 L744.4,1245.6 L745.9,1245.3 L747.4,1245.1 L748.9,1244.9 L750.4,1244.9 L751.8,1245.0 L753.2,1245.3 L754.6,1245.7 L755.9,1246.3 L757.2,1247.0 L758.4,1247.9 L759.7,1248.8 L760.9,1249.8 L762.0,1250.9 L763.2,1252.1 L764.4,1253.2 L765.5,1254.2 L766.7,1255.2 L767.9,1255.9 L769.1,1256.5 L770.4,1256.7 L771.7,1256.8 L773.0,1256.6 L774.3,1256.2 L775.6,1255.7 L776.9,1255.0 L778.3,1254.1 L779.5,1253.2 L780.8,1252.2 L782.1,1251.2 L783.3,1250.2 L784.4,1249.1 L785.5,1248.0 L786.7,1246.9 L787.7,1245.8 L788.8,1244.8 L789.8,1243.7 L790.9,1242.6 L791.9,1241.5 L792.9,1240.4 L794.0,1239.3 L795.0,1238.2 L796.1,1237.2 L797.1,1236.2 L798.2,1235.2 L799.3,1234.2 L800.4,1233.2 L801.6,1232.3 L802.8,1231.4 L804.1,1230.6 L805.3,1229.7 L806.7,1229.0 L808.1,1228.2 L809.5,1227.6 L810.9,1227.0 L812.4,1226.4 L813.9,1226.0 L815.4,1225.6 L816.9,1225.4 L818.4,1225.2 L819.9,1225.2 L821.4,1225.4 L822.8,1225.6 L824.2,1226.0 L825.5,1226.6 L826.9,1227.2 L828.1,1227.9 L829.4,1228.8 L830.6,1229.7 L831.8,1230.6 L833.0,1231.6 L834.1,1232.7 L835.2,1233.8 L836.3,1234.9 L837.4,1236.0 L838.4,1237.1 L839.5,1238.2 L840.5,1239.3 L841.5,1240.4 L842.5,1241.5 L843.5,1242.6 L844.5,1243.7 L845.5,1244.8 L846.6,1246.0 L847.6,1247.1 L848.7,1248.3 L849.8,1249.4 L850.9,1250.6 L852.1,1251.7 L853.3,1252.7 L854.5,1253.7 L855.7,1254.6 L856.9,1255.2 L858.1,1255.7 L859.4,1256.0 L860.6,1255.9 L861.8,1255.7 L863.0,1255.2 L864.3,1254.6 L865.5,1253.8 L866.7,1252.9 L868.0,1251.9 L869.2,1250.8 L870.4,1249.7 L871.7,1248.5 L872.9,1247.4 L874.2,1246.3 L875.4,1245.3 L876.7,1244.2 L878.0,1243.3 L879.3,1242.4 L880.6,1241.5 L881.9,1240.7 L883.2,1240.0 L884.5,1239.3 L885.9,1238.8 L887.2,1238.3 L888.6,1237.8 L890.0,1237.5 L891.4,1237.3 L892.8,1237.2 L894.2,1237.1 L895.6,1237.2 L897.1,1237.4 L898.6,1237.7 L900.1,1238.0" stroke-width="4.9" stroke-linecap="round" stroke-dasharray="13.4 12.3 0.01 12.4" stroke-dashoffset="12.94"/>
<path d="M900.1,1238.0 L901.6,1238.5 L903.1,1238.9 L904.6,1239.4 L906.1,1240.0 L907.6,1240.5 L909.1,1241.1 L910.6,1241.6 L912.1,1242.1 L913.6,1242.5 L915.1,1242.9 L916.6,1243.2 L918.0,1243.4 L919.5,1243.5 L920.9,1243.6 L922.3,1243.5 L923.7,1243.3 L925.1,1243.0 L926.5,1242.6 L927.8,1242.1 L929.2,1241.6 L930.5,1241.0 L931.8,1240.4 L933.2,1239.7 L934.5,1239.0 L935.8,1238.3 L937.2,1237.5 L938.5,1236.7 L939.9,1236.0 L941.2,1235.2 L942.6,1234.5 L943.9,1233.7 L945.3,1233.0 L946.7,1232.4 L948.1,1231.8 L949.5,1231.2 L950.9,1230.7 L952.4,1230.2 L953.8,1229.8 L955.2,1229.4 L956.7,1229.1 L958.1,1228.9 L959.6,1228.7 L961.1,1228.6 L962.5,1228.5 L964.0,1228.5 L965.4,1228.6 L966.9,1228.7 L968.4,1228.9 L969.8,1229.2 L971.2,1229.6 L972.7,1230.0 L974.1,1230.4 L975.6,1230.9 L977.0,1231.4 L978.4,1232.0 L979.9,1232.6 L981.3,1233.1 L982.7,1233.7 L984.2,1234.3 L985.6,1234.8 L987.1,1235.4 L988.5,1235.9 L989.9,1236.3 L991.4,1236.7 L992.8,1237.1 L994.3,1237.4 L995.8,1237.6 L997.2,1237.8 L998.7,1237.9 L1000.2,1237.9 L1001.7,1238.0 L1003.1,1237.9 L1004.6,1237.9 L1006.1,1237.8 L1007.6,1237.6 L1009.1,1237.4 L1010.6,1237.2 L1012.1,1237.0 L1013.5,1236.7 L1015.0,1236.4 L1016.5,1236.1 L1018.0,1235.8 L1019.5,1235.5 L1020.9,1235.1 L1022.4,1234.8 L1023.9,1234.4 L1025.4,1234.0 L1026.8,1233.7 L1028.3,1233.4 L1029.8,1233.1 L1031.2,1232.8 L1032.7,1232.5 L1034.2,1232.3 L1035.6,1232.1 L1037.1,1232.0 L1038.6,1231.9 L1040.0,1231.8 L1041.5,1231.8 L1043.0,1231.9 L1044.4,1232.1 L1045.9,1232.3 L1047.4,1232.6 L1048.8,1232.9 L1050.3,1233.3 L1051.8,1233.7 L1053.2,1234.1 L1054.7,1234.6 L1056.1,1235.0 L1057.5,1235.5 L1059.0,1236.1 L1060.4,1236.6 L1061.8,1237.1 L1063.2,1237.7 L1064.6,1238.2 L1066.1,1238.8 L1067.5,1239.4 L1068.9,1239.9 L1070.3,1240.5 L1071.7,1241.1 L1073.1,1241.7 L1074.4,1242.3 L1075.8,1242.9 L1077.2,1243.4 L1078.6,1244.0 L1080.0,1244.6 L1081.4,1245.1 L1082.8,1245.7 L1084.2,1246.2 L1085.6,1246.8 L1087.0,1247.3 L1088.4,1247.8 L1089.8,1248.3 L1091.2,1248.7 L1092.6,1249.2 L1094.0,1249.6 L1095.5,1250.0 L1096.9,1250.4 L1098.3,1250.8 L1099.7,1251.1 L1101.2,1251.4 L1102.6,1251.7 L1104.1,1252.0 L1105.6,1252.2 L1107.0,1252.4 L1108.5,1252.6 L1110.0,1252.7 L1111.5,1252.8 L1113.0,1252.9 L1114.4,1253.0 L1115.9,1253.1 L1117.4,1253.2 L1119.0,1253.2 L1120.5,1253.3 L1122.0,1253.3 L1123.5,1253.3 L1125.0,1253.3 L1126.5,1253.4 L1128.0,1253.4 L1129.5,1253.4 L1131.1,1253.4 L1132.6,1253.5 L1134.1,1253.5 L1135.6,1253.6 L1137.1,1253.6 L1138.6,1253.7 L1140.1,1253.8 L1141.6,1253.9 L1143.1,1254.0 L1144.6,1254.2 L1146.1,1254.3 L1147.6,1254.5 L1149.1,1254.7 L1150.6,1254.8 L1152.1,1255.0 L1153.6,1255.2 L1155.0,1255.4 L1156.5,1255.6 L1158.0,1255.8 L1159.5,1256.0 L1161.0,1256.1 L1162.5,1256.3 L1164.0,1256.4 L1165.4,1256.5 L1166.9,1256.7 L1168.4,1256.8 L1169.9,1256.9 L1171.4,1256.9 L1172.9,1257.0 L1174.4,1257.1 L1175.9,1257.1 L1177.4,1257.2 L1178.9,1257.2 L1180.4,1257.3 L1181.9,1257.3 L1183.4,1257.3 L1184.9,1257.3 L1186.3,1257.3 L1187.8,1257.3 L1189.3,1257.3 L1190.8,1257.3 L1192.3,1257.3 L1193.8,1257.3 L1195.3,1257.3 L1196.8,1257.3 L1198.3,1257.2 L1199.9,1257.2 L1201.4,1257.2 L1202.9,1257.2 L1204.4,1257.1 L1205.9,1257.1 L1207.4,1257.1 L1208.9,1257.0 L1210.4,1257.0 L1211.9,1257.0 L1213.4,1256.9 L1214.9,1256.9 L1216.4,1256.9 L1217.9,1256.9 L1219.4,1256.9 L1220.9,1256.9 L1222.4,1256.8 L1223.9,1256.8 L1225.4,1256.8 L1226.9,1256.9 L1228.4,1256.9 L1229.9,1256.9 L1231.4,1256.9 L1232.9,1256.9 L1234.4,1257.0 L1235.9,1257.0 L1237.4,1257.1 L1238.9,1257.2 L1240.4,1257.2 L1241.9,1257.3 L1243.4,1257.4 L1244.9,1257.4 L1246.4,1257.5 L1247.9,1257.6 L1249.4,1257.6 L1250.8,1257.6 L1252.3,1257.6 L1253.8,1257.6 L1255.3,1257.6 L1256.8,1257.5 L1258.3,1257.4 L1259.7,1257.3 L1261.2,1257.1 L1262.7,1256.9 L1264.1,1256.7 L1265.6,1256.4 L1267.1,1256.0 L1268.5,1255.6 L1270.0,1255.2 L1271.4,1254.7 L1272.9,1254.1 L1274.3,1253.4 L1275.8,1252.8 L1277.2,1252.1 L1278.7,1251.4 L1280.1,1250.8 L1281.6,1250.3 L1283.0,1249.9 L1284.5,1249.7 L1286.0,1249.7 L1287.6,1250.0 L1289.1,1250.6 L1290.7,1251.5" stroke-width="4.9" stroke-linecap="round" stroke-dasharray="13.4 12.3 0.01 12.4" stroke-dashoffset="3.61"/>
<path d="M216.3,1427.0 L217.7,1426.7 L219.1,1426.3 L220.4,1425.8 L221.8,1425.2 L223.2,1424.7 L224.6,1424.0 L226.0,1423.4 L227.4,1422.7 L228.8,1422.0 L230.2,1421.3 L231.6,1420.6 L233.0,1419.9 L234.4,1419.3 L235.8,1418.6 L237.2,1418.1 L238.6,1417.5 L240.0,1417.1 L241.4,1416.7 L242.8,1416.4 L244.3,1416.2 L245.7,1416.0 L247.1,1416.0 L248.6,1416.0 L250.0,1416.2 L251.4,1416.4 L252.9,1416.7 L254.3,1417.0 L255.8,1417.4 L257.2,1417.9 L258.7,1418.4 L260.1,1419.0 L261.5,1419.6 L263.0,1420.2 L264.4,1420.9 L265.9,1421.6 L267.3,1422.2 L268.7,1422.9 L270.2,1423.5 L271.6,1424.1 L273.0,1424.6 L274.4,1425.0 L275.8,1425.3 L277.2,1425.4 L278.6,1425.5 L279.9,1425.4 L281.3,1425.2 L282.7,1424.8 L284.0,1424.2 L285.3,1423.6 L286.7,1422.9 L288.0,1422.0 L289.3,1421.2 L290.7,1420.3 L292.0,1419.4 L293.3,1418.5 L294.7,1417.6 L296.0,1416.7 L297.4,1416.0 L298.8,1415.3 L300.2,1414.7 L301.6,1414.2 L303.0,1413.7 L304.4,1413.4 L305.8,1413.1 L307.2,1412.9 L308.6,1412.9 L310.1,1412.9 L311.5,1412.9 L312.9,1413.1 L314.3,1413.3 L315.8,1413.6 L317.2,1414.0 L318.6,1414.5 L320.0,1415.1 L321.3,1415.7 L322.7,1416.4 L324.1,1417.2 L325.4,1418.1 L326.8,1419.0 L328.1,1420.0 L329.4,1420.9 L330.8,1421.7 L332.1,1422.4 L333.4,1422.9 L334.8,1423.3 L336.2,1423.4 L337.5,1423.3 L338.9,1423.1 L340.2,1422.7 L341.5,1422.2 L342.8,1421.6 L344.0,1420.9 L345.2,1420.1 L346.3,1419.2 L347.4,1418.2 L348.5,1417.1 L349.6,1416.0 L350.7,1414.9 L351.7,1413.7 L352.7,1412.4 L353.7,1411.2 L354.7,1409.9 L355.7,1408.6 L356.7,1407.3 L357.7,1406.0 L358.7,1404.7 L359.7,1403.5 L360.7,1402.3 L361.8,1401.1 L362.8,1400.0 L363.9,1398.9 L365.0,1397.9 L366.1,1397.0 L367.2,1396.2 L368.4,1395.5 L369.6,1394.8 L370.9,1394.3 L372.2,1393.9 L373.5,1393.6 L374.9,1393.5 L376.3,1393.4 L377.7,1393.5 L379.1,1393.7 L380.6,1394.0 L382.0,1394.3 L383.4,1394.8 L384.8,1395.4 L386.2,1396.1 L387.5,1396.9 L388.9,1397.7 L390.1,1398.6 L391.3,1399.6 L392.5,1400.7 L393.5,1401.9 L394.5,1403.1 L395.5,1404.4 L396.3,1405.7 L397.0,1407.1 L397.7,1408.5 L398.3,1410.0 L399.0,1411.4 L399.6,1412.9 L400.3,1414.4 L401.1,1415.9 L402.0,1417.3 L403.0,1418.6 L404.0,1419.8 L405.1,1420.7 L406.2,1421.4 L407.4,1421.7 L408.6,1421.7 L409.8,1421.3 L411.0,1420.7 L412.1,1419.7 L413.2,1418.6 L414.3,1417.3 L415.3,1416.0 L416.1,1414.6 L416.9,1413.1 L417.7,1411.7 L418.3,1410.2 L419.0,1408.7 L419.6,1407.2 L420.3,1405.8 L420.9,1404.4 L421.5,1403.0 L422.1,1401.6 L422.7,1400.2 L423.3,1398.9 L423.9,1397.5 L424.5,1396.2 L425.2,1394.9 L425.8,1393.6 L426.4,1392.2 L427.0,1390.9 L427.6,1389.6 L428.2,1388.3 L428.9,1387.0 L429.5,1385.7 L430.1,1384.3 L430.8,1383.0 L431.4,1381.7 L432.1,1380.3 L432.8,1379.0 L433.5,1377.6 L434.2,1376.2 L434.9,1374.9 L435.7,1373.5 L436.5,1372.1 L437.2,1370.7 L438.1,1369.4 L438.9,1368.0 L439.8,1366.8 L440.8,1365.6 L441.8,1364.5 L442.9,1363.5 L444.1,1362.6 L445.3,1361.8 L446.6,1361.1 L447.9,1360.5 L449.2,1360.1 L450.6,1359.8 L452.0,1359.6 L453.4,1359.6 L454.8,1359.7 L456.3,1359.9 L457.7,1360.3 L459.2,1360.9 L460.6,1361.6 L462.0,1362.4 L463.5,1363.2 L464.9,1364.0 L466.3,1364.7 L467.7,1365.3 L469.1,1365.5 L470.5,1365.6" stroke-width="4.9" stroke-linecap="round" stroke-dasharray="0.01 9.64" stroke-dashoffset="9.03"/>
<path d="M470.5,1365.6 L471.9,1365.4 L473.2,1365.0 L474.5,1364.4 L475.7,1363.7 L476.8,1362.9 L477.8,1362.0 L478.7,1360.9 L479.5,1359.8 L480.3,1358.7 L481.0,1357.4 L481.7,1356.1 L482.3,1354.8 L482.8,1353.4 L483.3,1351.9 L483.8,1350.5 L484.3,1349.0 L484.8,1347.5 L485.2,1346.0 L485.6,1344.5 L486.1,1343.1 L486.5,1341.6 L486.9,1340.1 L487.3,1338.6 L487.7,1337.1 L488.1,1335.7 L488.5,1334.2 L488.9,1332.7 L489.3,1331.2 L489.7,1329.8 L490.1,1328.3 L490.4,1326.8 L490.8,1325.3 L491.2,1323.9 L491.5,1322.4 L491.9,1320.9 L492.2,1319.5 L492.6,1318.0 L492.9,1316.5 L493.3,1315.1 L493.6,1313.6 L493.9,1312.1 L494.2,1310.7 L494.6,1309.2 L494.9,1307.7 L495.2,1306.3 L495.5,1304.8 L495.8,1303.4 L496.1,1301.9 L496.5,1300.4 L496.8,1299.0 L497.1,1297.5 L497.4,1296.1 L497.7,1294.6 L498.0,1293.1 L498.3,1291.7 L498.5,1290.2 L498.8,1288.8 L499.1,1287.3 L499.4,1285.8 L499.7,1284.4 L500.0,1282.9 L500.3,1281.5 L500.6,1280.0 L500.9,1278.5 L501.2,1277.1 L501.4,1275.6 L501.7,1274.2 L502.0,1272.7 L502.3,1271.2 L502.6,1269.8 L502.9,1268.3 L503.2,1266.9 L503.5,1265.4 L503.7,1263.9 L504.0,1262.5 L504.3,1261.0 L504.6,1259.5 L504.9,1258.1 L505.2,1256.6 L505.5,1255.1 L505.8,1253.7 L506.1,1252.2 L506.4,1250.7 L506.7,1249.2 L507.0,1247.8 L507.3,1246.3 L507.6,1244.8 L507.9,1243.4 L508.2,1241.9 L508.6,1240.4 L508.9,1238.9 L509.2,1237.5 L509.5,1236.0 L509.8,1234.5 L510.1,1233.1 L510.5,1231.6 L510.8,1230.1 L511.1,1228.6 L511.4,1227.2 L511.8,1225.7 L512.1,1224.2 L512.4,1222.8 L512.8,1221.3 L513.1,1219.8 L513.4,1218.4 L513.8,1216.9 L514.1,1215.4 L514.5,1214.0 L514.8,1212.5 L515.2,1211.0 L515.5,1209.6 L515.9,1208.1 L516.2,1206.7 L516.6,1205.2 L516.9,1203.7 L517.3,1202.3 L517.7,1200.8 L518.0,1199.4 L518.4,1197.9 L518.8,1196.5 L519.2,1195.0 L519.5,1193.6 L519.9,1192.1 L520.3,1190.7 L520.7,1189.2 L521.1,1187.8 L521.5,1186.4 L521.8,1184.9 L522.2,1183.5 L522.6,1182.1 L523.0,1180.6 L523.4,1179.2 L523.9,1177.8 L524.3,1176.3 L524.7,1174.9 L525.1,1173.5 L525.5,1172.1 L526.0,1170.7 L526.4,1169.3 L526.9,1167.8 L527.3,1166.4 L527.8,1165.0 L528.3,1163.6 L528.8,1162.2 L529.4,1160.8 L530.0,1159.4 L530.6,1158.0 L531.2,1156.6 L531.8,1155.2 L532.5,1153.8 L533.2,1152.4 L534.0,1151.0 L534.8,1149.6 L535.6,1148.2 L536.5,1146.8 L537.4,1145.5 L538.3,1144.2 L539.2,1143.1 L540.2,1142.1 L541.3,1141.3 L542.3,1140.6 L543.4,1140.2 L544.5,1140.0 L545.7,1140.0 L546.8,1140.4 L548.0,1141.0 L549.2,1141.9 L550.3,1142.9 L551.4,1144.2 L552.5,1145.5 L553.5,1146.9 L554.4,1148.3 L555.2,1149.7 L556.0,1151.1 L556.6,1152.5 L557.3,1153.9 L557.9,1155.3 L558.4,1156.7 L558.9,1158.0 L559.5,1159.5 L560.0,1160.9 L560.5,1162.3 L561.0,1163.7 L561.5,1165.1 L562.0,1166.5 L562.4,1167.9 L562.9,1169.3 L563.3,1170.8 L563.8,1172.2 L564.2,1173.6 L564.7,1175.1 L565.1,1176.5 L565.5,1177.9 L565.9,1179.4 L566.3,1180.8 L566.7,1182.2 L567.2,1183.7 L567.6,1185.1 L567.9,1186.6 L568.3,1188.0 L568.7,1189.4 L569.1,1190.9 L569.5,1192.3 L569.8,1193.8 L570.2,1195.2 L570.6,1196.7 L570.9,1198.1 L571.3,1199.6 L571.7,1201.1 L572.0,1202.5 L572.3,1204.0 L572.7,1205.4 L573.0,1206.9 L573.4,1208.4 L573.7,1209.8 L574.0,1211.3 L574.4,1212.7 L574.7,1214.2 L575.0,1215.7 L575.3,1217.1 L575.6,1218.6 L576.0,1220.1 L576.3,1221.5 L576.6,1223.0 L576.9,1224.5 L577.2,1225.9 L577.5,1227.4 L577.8,1228.9 L578.1,1230.3 L578.4,1231.8 L578.7,1233.3 L579.0,1234.7 L579.3,1236.2 L579.6,1237.7 L579.9,1239.2 L580.2,1240.6 L580.5,1242.1 L580.8,1243.6 L581.1,1245.0 L581.4,1246.5 L581.7,1248.0 L582.0,1249.5 L582.3,1250.9 L582.6,1252.4 L582.9,1253.9 L583.2,1255.3 L583.5,1256.8 L583.8,1258.3 L584.1,1259.8 L584.4,1261.2 L584.7,1262.7 L585.0,1264.2 L585.3,1265.6 L585.6,1267.1 L585.9,1268.6 L586.2,1270.0 L586.4,1271.5 L586.7,1273.0 L587.0,1274.4 L587.3,1275.9 L587.6,1277.4 L587.9,1278.8 L588.3,1280.3 L588.6,1281.8 L588.9,1283.2 L589.2,1284.7 L589.5,1286.2 L589.8,1287.7 L590.1,1289.1 L590.4,1290.6 L590.7,1292.1 L591.0,1293.5 L591.3,1295.0 L591.6,1296.5 L591.9,1297.9 L592.2,1299.4 L592.5,1300.9 L592.8,1302.3 L593.1,1303.8 L593.4,1305.3 L593.8,1306.7 L594.1,1308.2 L594.4,1309.6 L594.7,1311.1 L595.0,1312.6 L595.3,1314.0 L595.6,1315.5 L595.9,1317.0 L596.3,1318.4 L596.6,1319.9 L596.9,1321.4 L597.2,1322.8 L597.5,1324.3 L597.8,1325.8 L598.2,1327.2 L598.5,1328.7 L598.8,1330.2 L599.1,1331.6 L599.4,1333.1 L599.8,1334.6 L600.1,1336.0 L600.4,1337.5 L600.7,1338.9 L601.1,1340.4 L601.4,1341.9 L601.7,1343.3 L602.1,1344.8 L602.4,1346.3 L602.7,1347.7 L603.1,1349.2 L603.4,1350.7 L603.7,1352.1 L604.1,1353.6 L604.4,1355.0 L604.8,1356.5 L605.1,1358.0 L605.5,1359.4 L605.8,1360.9 L606.2,1362.3 L606.5,1363.8 L606.9,1365.2 L607.3,1366.7 L607.6,1368.1 L608.0,1369.6 L608.4,1371.1 L608.7,1372.5 L609.1,1373.9 L609.5,1375.4 L609.9,1376.8 L610.3,1378.3 L610.7,1379.7 L611.1,1381.2 L611.5,1382.6 L611.9,1384.0 L612.3,1385.5 L612.7,1386.9 L613.2,1388.4 L613.6,1389.8 L614.0,1391.2 L614.5,1392.6 L615.0,1394.1 L615.5,1395.5" stroke-width="4.9" stroke-linecap="round" stroke-dasharray="0.01 9.64" stroke-dashoffset="4.79"/>
<path d="M615.5,1395.5 L616.0,1396.9 L616.6,1398.4 L617.1,1399.8 L617.7,1401.2 L618.3,1402.6 L619.0,1404.1 L619.7,1405.4 L620.5,1406.7 L621.3,1407.9 L622.3,1409.0 L623.4,1409.9 L624.6,1410.6 L625.9,1411.2 L627.3,1411.6 L628.7,1411.9 L630.2,1412.0 L631.7,1412.0 L633.2,1411.9 L634.7,1411.8 L636.1,1411.5 L637.6,1411.3 L639.1,1411.0 L640.5,1410.7 L642.0,1410.4 L643.5,1410.1 L645.0,1409.9 L646.5,1409.7 L648.0,1409.6 L649.5,1409.7 L651.1,1409.8 L652.7,1410.1 L654.3,1410.5 L655.9,1410.9 L657.5,1411.3 L659.1,1411.7 L660.6,1412.0 L662.1,1412.1 L663.5,1412.1 L664.9,1412.0 L666.3,1411.8 L667.6,1411.4 L668.9,1410.9 L670.1,1410.4 L671.4,1409.7 L672.6,1409.0 L673.8,1408.3 L675.0,1407.4 L676.2,1406.6 L677.4,1405.7 L678.6,1404.8 L679.8,1403.9 L681.0,1403.0 L682.2,1402.0 L683.5,1401.1 L684.7,1400.2 L686.0,1399.2 L687.2,1398.3 L688.5,1397.4 L689.8,1396.5 L691.1,1395.6 L692.4,1394.7 L693.7,1393.9 L695.0,1393.1 L696.3,1392.3 L697.6,1391.5 L698.9,1390.8 L700.3,1390.1 L701.6,1389.4 L703.0,1388.8 L704.3,1388.2 L705.7,1387.7 L707.0,1387.3 L708.4,1386.8 L709.8,1386.5 L711.2,1386.2 L712.6,1386.0 L714.0,1385.8 L715.4,1385.7 L716.8,1385.7 L718.2,1385.7 L719.6,1385.7 L721.0,1385.9 L722.5,1386.0 L723.9,1386.2 L725.3,1386.5 L726.8,1386.7 L728.2,1387.0 L729.7,1387.4 L731.1,1387.8 L732.6,1388.1 L734.0,1388.5 L735.5,1389.0 L737.0,1389.4 L738.4,1389.9 L739.9,1390.3 L741.4,1390.8 L742.9,1391.2 L744.4,1391.7 L745.8,1392.1 L747.3,1392.6 L748.8,1393.0 L750.3,1393.4 L751.8,1393.8 L753.3,1394.2 L754.8,1394.6 L756.3,1394.9 L757.8,1395.2 L759.3,1395.4 L760.8,1395.7 L762.3,1395.8 L763.9,1396.0 L765.4,1396.1 L766.9,1396.2 L768.4,1396.3 L769.9,1396.4 L771.4,1396.4 L772.9,1396.5 L774.4,1396.5 L775.9,1396.5 L777.4,1396.5 L778.9,1396.5 L780.4,1396.5 L781.9,1396.5 L783.4,1396.6 L784.9,1396.6 L786.4,1396.6 L787.9,1396.7 L789.4,1396.7 L790.9,1396.8 L792.3,1396.9 L793.8,1397.0 L795.3,1397.2 L796.7,1397.4 L798.2,1397.6 L799.6,1397.8 L801.1,1398.1 L802.5,1398.5 L803.9,1398.8 L805.3,1399.2 L806.8,1399.6 L808.2,1400.0 L809.6,1400.5 L811.0,1400.9 L812.4,1401.4 L813.8,1402.0 L815.2,1402.5 L816.6,1403.1 L818.0,1403.6 L819.3,1404.2 L820.7,1404.8 L822.1,1405.5 L823.5,1406.1 L824.9,1406.8 L826.2,1407.4 L827.6,1408.1 L829.0,1408.8 L830.3,1409.5 L831.7,1410.1 L833.0,1410.8 L834.4,1411.5 L835.8,1412.2 L837.1,1412.9 L838.5,1413.6 L839.8,1414.3 L841.2,1415.0 L842.5,1415.7 L843.9,1416.4 L845.2,1417.1 L846.6,1417.8 L847.9,1418.4 L849.3,1419.1 L850.6,1419.7 L852.0,1420.4 L853.4,1421.0 L854.7,1421.6 L856.1,1422.2 L857.4,1422.8 L858.8,1423.3 L860.2,1423.8 L861.6,1424.3 L863.0,1424.8 L864.3,1425.3 L865.7,1425.7 L867.1,1426.2 L868.5,1426.6 L869.9,1426.9 L871.3,1427.2 L872.8,1427.6 L874.2,1427.8 L875.6,1428.1 L877.1,1428.3 L878.5,1428.4 L880.0,1428.6 L881.4,1428.7 L882.9,1428.8 L884.4,1428.8 L885.9,1428.8 L887.3,1428.9 L888.8,1428.8 L890.3,1428.8 L891.8,1428.8 L893.3,1428.7 L894.8,1428.6 L896.4,1428.5 L897.9,1428.4 L899.4,1428.3 L900.9,1428.2 L902.4,1428.1 L904.0,1428.0 L905.5,1427.9 L907.0,1427.8 L908.5,1427.7 L910.1,1427.6 L911.6,1427.6 L913.1,1427.5 L914.7,1427.5 L916.2,1427.4 L917.7,1427.4 L919.2,1427.4 L920.8,1427.4 L922.3,1427.5 L923.8,1427.6 L925.3,1427.7 L926.8,1427.8 L928.3,1428.0 L929.8,1428.2 L931.3,1428.4 L932.8,1428.6 L934.3,1428.9 L935.8,1429.2 L937.3,1429.5 L938.8,1429.8 L940.3,1430.1 L941.8,1430.4 L943.3,1430.8 L944.7,1431.1 L946.2,1431.4 L947.7,1431.8 L949.2,1432.1 L950.6,1432.4 L952.1,1432.7 L953.6,1433.0 L955.1,1433.3 L956.5,1433.5 L958.0,1433.8 L959.5,1434.0 L960.9,1434.2 L962.4,1434.3 L963.9,1434.4 L965.4,1434.5 L966.8,1434.6 L968.3,1434.6 L969.8,1434.6 L971.2,1434.6 L972.7,1434.5 L974.2,1434.4 L975.7,1434.3 L977.1,1434.1 L978.6,1434.0 L980.1,1433.8 L981.5,1433.6 L983.0,1433.4 L984.5,1433.1 L986.0,1432.9 L987.4,1432.6 L988.9,1432.3 L990.4,1432.0 L991.9,1431.7 L993.3,1431.4 L994.8,1431.1 L996.3,1430.7 L997.8,1430.4 L999.2,1430.1 L1000.7,1429.7" stroke-width="4.9" stroke-linecap="round" stroke-dasharray="0.01 9.64" stroke-dashoffset="2.02"/>
<path d="M1000.7,1429.7 L1002.2,1429.4 L1003.7,1429.1 L1005.2,1428.7 L1006.6,1428.4 L1008.1,1428.1 L1009.6,1427.8 L1011.1,1427.5 L1012.6,1427.2 L1014.1,1426.9 L1015.5,1426.7 L1017.0,1426.4 L1018.5,1426.2 L1020.0,1426.0 L1021.5,1425.8 L1023.0,1425.6 L1024.4,1425.5 L1025.9,1425.3 L1027.4,1425.2 L1028.9,1425.1 L1030.4,1425.1 L1031.9,1425.0 L1033.4,1425.0 L1034.9,1425.0 L1036.3,1425.0 L1037.8,1425.1 L1039.3,1425.1 L1040.8,1425.2 L1042.3,1425.3 L1043.8,1425.4 L1045.2,1425.5 L1046.7,1425.7 L1048.2,1425.8 L1049.7,1426.0 L1051.2,1426.2 L1052.6,1426.4 L1054.1,1426.7 L1055.6,1426.9 L1057.1,1427.2 L1058.5,1427.5 L1060.0,1427.8 L1061.5,1428.1 L1062.9,1428.5 L1064.4,1428.8 L1065.9,1429.2 L1067.3,1429.6 L1068.8,1430.0 L1070.2,1430.4 L1071.7,1430.9 L1073.1,1431.3 L1074.6,1431.8 L1076.0,1432.2 L1077.5,1432.6 L1078.9,1433.1 L1080.4,1433.5 L1081.8,1433.9 L1083.2,1434.3 L1084.7,1434.6 L1086.1,1434.9 L1087.6,1435.2 L1089.0,1435.4 L1090.5,1435.6 L1091.9,1435.7 L1093.4,1435.7 L1094.8,1435.7 L1096.3,1435.7 L1097.7,1435.5 L1099.2,1435.3 L1100.6,1435.0 L1102.1,1434.7 L1103.6,1434.3 L1105.0,1433.9 L1106.5,1433.5 L1108.0,1433.0 L1109.4,1432.5 L1110.9,1432.1 L1112.4,1431.6 L1113.9,1431.1 L1115.3,1430.6 L1116.8,1430.2 L1118.3,1429.8 L1119.8,1429.4 L1121.3,1429.0 L1122.7,1428.8 L1124.2,1428.5 L1125.7,1428.4 L1127.2,1428.3 L1128.7,1428.2 L1130.1,1428.3 L1131.6,1428.4 L1133.1,1428.5 L1134.6,1428.7 L1136.1,1429.0 L1137.6,1429.2 L1139.0,1429.6 L1140.5,1429.9 L1142.0,1430.3 L1143.5,1430.6 L1145.0,1431.0 L1146.5,1431.4 L1147.9,1431.8 L1149.4,1432.2 L1150.9,1432.6 L1152.4,1433.0 L1153.9,1433.4 L1155.4,1433.7 L1156.8,1434.1 L1158.3,1434.4 L1159.8,1434.6 L1161.3,1434.8 L1162.8,1435.0 L1164.3,1435.1 L1165.7,1435.2 L1167.2,1435.2 L1168.7,1435.2 L1170.2,1435.1 L1171.7,1435.0 L1173.2,1434.9 L1174.6,1434.7 L1176.1,1434.5 L1177.6,1434.3 L1179.1,1434.1 L1180.6,1433.9 L1182.1,1433.7 L1183.6,1433.5 L1185.0,1433.3 L1186.5,1433.1 L1188.0,1432.9 L1189.5,1432.7 L1191.0,1432.6 L1192.5,1432.5 L1194.0,1432.4 L1195.5,1432.4 L1197.0,1432.4 L1198.5,1432.4 L1199.9,1432.4 L1201.4,1432.5 L1202.9,1432.6 L1204.4,1432.7 L1205.9,1432.8 L1207.4,1432.9 L1208.9,1433.1 L1210.4,1433.3 L1211.9,1433.5 L1213.4,1433.6 L1214.9,1433.8 L1216.4,1434.0 L1217.9,1434.2 L1219.4,1434.4 L1220.9,1434.6 L1222.3,1434.8 L1223.8,1435.0 L1225.3,1435.2 L1226.8,1435.3 L1228.3,1435.5 L1229.8,1435.6 L1231.2,1435.7 L1232.7,1435.8 L1234.2,1435.9 L1235.7,1436.0 L1237.1,1436.0 L1238.6,1436.1 L1240.1,1436.1 L1241.6,1436.1 L1243.0,1436.0 L1244.5,1436.0 L1246.0,1435.9 L1247.5,1435.9 L1248.9,1435.8 L1250.4,1435.7 L1251.9,1435.6 L1253.3,1435.4 L1254.8,1435.3 L1256.3,1435.1 L1257.8,1434.9 L1259.3,1434.7 L1260.8,1434.5 L1262.2,1434.3 L1263.7,1434.0 L1265.2,1433.8 L1266.7,1433.5 L1268.2,1433.3 L1269.7,1433.0 L1271.2,1432.8 L1272.7,1432.6 L1274.2,1432.4 L1275.7,1432.2 L1277.2,1432.0 L1278.7,1431.9 L1280.2,1431.8 L1281.7,1431.7 L1283.2,1431.7 L1284.7,1431.7 L1286.2,1431.7 L1287.7,1431.8 L1289.2,1432.0 L1290.7,1432.2" stroke-width="4.9" stroke-linecap="round" stroke-dasharray="0.01 9.64" stroke-dashoffset="8.04"/>
<path d="M216.3,1613.0 L217.8,1612.9 L219.3,1612.8 L220.8,1612.8 L222.3,1612.7 L223.8,1612.6 L225.3,1612.6 L226.8,1612.5 L228.3,1612.4 L229.8,1612.4 L231.3,1612.3 L232.8,1612.3 L234.3,1612.2 L235.8,1612.2 L237.2,1612.1 L238.7,1612.1 L240.2,1612.1 L241.7,1612.0 L243.2,1612.0 L244.7,1611.9 L246.2,1611.9 L247.7,1611.9 L249.2,1611.9 L250.7,1611.8 L252.2,1611.8 L253.7,1611.8 L255.2,1611.8 L256.7,1611.7 L258.2,1611.7 L259.7,1611.7 L261.2,1611.7 L262.7,1611.7 L264.2,1611.7 L265.7,1611.7 L267.2,1611.6 L268.7,1611.6 L270.2,1611.6 L271.7,1611.6 L273.2,1611.6 L274.6,1611.6 L276.1,1611.6 L277.6,1611.6 L279.1,1611.6 L280.6,1611.6 L282.1,1611.6 L283.6,1611.7 L285.1,1611.7 L286.6,1611.7 L288.1,1611.7 L289.6,1611.7 L291.1,1611.7 L292.6,1611.7 L294.1,1611.7 L295.6,1611.8 L297.1,1611.8 L298.6,1611.8 L300.1,1611.8 L301.6,1611.8 L303.1,1611.8 L304.6,1611.8 L306.1,1611.8 L307.6,1611.8 L309.1,1611.8 L310.6,1611.8 L312.1,1611.8 L313.6,1611.8 L315.1,1611.8 L316.6,1611.8 L318.1,1611.8 L319.6,1611.7 L321.1,1611.7 L322.6,1611.7 L324.1,1611.6 L325.6,1611.6 L327.1,1611.5 L328.5,1611.5 L330.0,1611.4 L331.5,1611.3 L333.0,1611.3 L334.5,1611.2 L336.0,1611.1 L337.5,1611.0 L339.0,1610.9 L340.5,1610.7 L342.0,1610.6 L343.4,1610.5 L344.9,1610.3 L346.4,1610.2 L347.9,1610.0 L349.4,1609.8 L350.9,1609.6 L352.4,1609.4 L353.8,1609.2 L355.3,1609.0 L356.8,1608.8 L358.3,1608.5 L359.7,1608.3 L361.2,1608.0 L362.7,1607.7 L364.2,1607.4 L365.6,1607.1 L367.1,1606.8 L368.6,1606.5 L370.1,1606.2 L371.5,1605.9 L373.0,1605.6 L374.5,1605.3 L376.0,1605.0 L377.4,1604.7 L378.9,1604.4 L380.4,1604.1 L381.8,1603.9 L383.3,1603.7 L384.8,1603.4 L386.3,1603.2 L387.7,1603.1 L389.2,1602.9 L390.7,1602.8 L392.2,1602.7 L393.7,1602.7 L395.1,1602.6 L396.6,1602.7 L398.1,1602.7 L399.6,1602.8 L401.1,1602.9 L402.6,1603.1 L404.1,1603.3 L405.6,1603.5 L407.1,1603.8 L408.6,1604.0 L410.0,1604.3 L411.5,1604.7 L413.0,1605.0 L414.5,1605.4 L416.0,1605.8 L417.5,1606.2 L418.9,1606.6 L420.4,1607.0 L421.9,1607.4 L423.3,1607.8 L424.8,1608.2 L426.3,1608.6 L427.7,1608.9 L429.2,1609.1 L430.6,1609.4 L432.1,1609.5 L433.5,1609.6 L435.0,1609.6 L436.4,1609.5 L437.8,1609.4 L439.3,1609.2 L440.7,1608.9 L442.1,1608.6 L443.6,1608.2 L445.0,1607.8 L446.4,1607.4 L447.9,1606.9 L449.3,1606.4 L450.7,1605.9 L452.1,1605.4 L453.6,1604.8 L455.0,1604.2 L456.4,1603.7 L457.8,1603.1 L459.3,1602.6 L460.7,1602.1 L462.1,1601.5 L463.6,1601.0 L465.0,1600.6 L466.5,1600.2 L467.9,1599.8 L469.4,1599.4 L470.8,1599.1 L472.3,1598.8 L473.7,1598.6 L475.2,1598.4 L476.6,1598.1 L478.1,1597.9 L479.6,1597.7 L481.0,1597.5 L482.5,1597.3 L484.0,1597.1 L485.4,1596.9 L486.9,1596.7 L488.4,1596.4 L489.9,1596.1 L491.4,1595.8 L492.8,1595.4 L494.3,1595.0 L495.8,1594.6 L497.2,1594.2 L498.7,1593.7 L500.2,1593.3" stroke-width="4.9" stroke-linecap="round" stroke-dasharray="16.9 15.8 3.3 16.7 3.3 16.7" stroke-dashoffset="71.33"/>
<path d="M500.2,1593.3 L501.6,1592.8 L503.0,1592.2 L504.4,1591.7 L505.8,1591.1 L507.2,1590.5 L508.6,1589.8 L510.0,1589.2 L511.3,1588.5 L512.6,1587.8 L513.9,1587.0 L515.2,1586.3 L516.4,1585.5 L517.7,1584.6 L518.9,1583.8 L520.0,1582.9 L521.2,1582.0 L522.3,1581.1 L523.4,1580.2 L524.5,1579.2 L525.6,1578.2 L526.6,1577.2 L527.7,1576.2 L528.7,1575.1 L529.7,1574.1 L530.7,1573.0 L531.7,1572.0 L532.7,1570.9 L533.7,1569.8 L534.8,1568.7 L535.8,1567.6 L536.8,1566.5 L537.8,1565.4 L538.8,1564.3 L539.9,1563.2 L540.9,1562.1 L542.0,1561.0 L543.1,1559.9 L544.2,1558.8 L545.3,1557.7 L546.5,1556.6 L547.7,1555.6 L548.8,1554.5 L550.1,1553.5 L551.3,1552.5 L552.5,1551.5 L553.8,1550.5 L555.0,1549.6 L556.3,1548.7 L557.6,1547.8 L558.9,1547.0 L560.3,1546.2 L561.6,1545.5 L562.9,1544.8 L564.3,1544.1 L565.7,1543.6 L567.0,1543.0 L568.4,1542.5 L569.8,1542.1 L571.2,1541.8 L572.6,1541.5 L574.0,1541.3 L575.4,1541.1 L576.8,1541.0 L578.2,1541.0 L579.6,1541.1 L581.0,1541.3 L582.4,1541.5 L583.8,1541.8 L585.2,1542.2 L586.6,1542.7 L588.0,1543.2 L589.4,1543.7 L590.8,1544.4 L592.1,1545.0 L593.5,1545.8 L594.8,1546.5 L596.1,1547.3 L597.4,1548.2 L598.7,1549.1 L600.0,1550.0 L601.2,1551.0 L602.4,1552.0 L603.6,1553.0 L604.8,1554.0 L605.9,1555.1 L607.1,1556.2 L608.1,1557.3 L609.2,1558.4 L610.2,1559.5 L611.2,1560.6 L612.2,1561.7 L613.1,1562.8 L614.0,1564.0 L614.9,1565.1 L615.8,1566.3 L616.7,1567.5 L617.6,1568.6 L618.4,1569.8 L619.3,1571.0 L620.1,1572.2 L621.0,1573.3 L621.8,1574.5 L622.7,1575.7 L623.5,1576.9 L624.4,1578.1 L625.2,1579.3 L626.1,1580.6 L627.0,1581.8 L627.9,1583.0 L628.8,1584.2 L629.8,1585.4 L630.7,1586.6 L631.7,1587.8 L632.8,1589.0 L633.8,1590.2 L634.9,1591.4 L636.0,1592.6 L637.1,1593.7 L638.2,1594.9 L639.4,1595.9 L640.6,1597.0 L641.8,1598.0 L643.0,1598.9 L644.2,1599.8 L645.4,1600.6 L646.7,1601.3 L648.0,1602.0 L649.3,1602.6 L650.6,1603.1 L651.9,1603.6 L653.2,1603.9 L654.6,1604.1 L655.9,1604.3 L657.3,1604.3 L658.7,1604.2 L660.0,1604.0 L661.4,1603.6 L662.8,1603.2 L664.2,1602.7 L665.6,1602.2 L667.0,1601.5 L668.4,1600.9 L669.9,1600.2 L671.3,1599.5 L672.7,1598.9 L674.2,1598.2 L675.6,1597.6 L677.1,1597.0 L678.5,1596.5 L680.0,1596.0 L681.4,1595.6 L682.9,1595.3 L684.4,1595.0 L685.8,1594.7 L687.3,1594.5 L688.8,1594.4 L690.3,1594.3 L691.7,1594.3 L693.2,1594.4 L694.7,1594.5 L696.1,1594.7 L697.6,1594.9 L699.1,1595.2 L700.5,1595.5 L702.0,1595.9 L703.4,1596.3 L704.9,1596.8 L706.3,1597.3 L707.8,1597.8 L709.2,1598.3 L710.6,1598.8 L712.1,1599.3 L713.5,1599.9 L714.9,1600.4 L716.3,1601.0 L717.7,1601.5 L719.2,1602.0 L720.6,1602.6 L722.0,1603.1 L723.4,1603.7 L724.8,1604.2 L726.2,1604.7 L727.6,1605.2 L729.0,1605.7 L730.4,1606.2 L731.8,1606.6 L733.3,1607.1 L734.7,1607.5 L736.1,1607.9 L737.5,1608.3 L739.0,1608.6 L740.4,1609.0 L741.9,1609.3 L743.3,1609.5 L744.8,1609.8 L746.3,1610.0 L747.7,1610.2 L749.2,1610.3 L750.7,1610.4 L752.2,1610.5 L753.7,1610.6 L755.2,1610.7 L756.7,1610.7 L758.2,1610.8 L759.7,1610.8 L761.3,1610.9" stroke-width="4.9" stroke-linecap="round" stroke-dasharray="16.9 15.8 3.3 16.7 3.3 16.7" stroke-dashoffset="67.04"/>
<path d="M761.3,1610.9 L762.8,1610.9 L764.3,1611.0 L765.8,1611.0 L767.3,1611.1 L768.8,1611.2 L770.3,1611.3 L771.8,1611.4 L773.3,1611.4 L774.8,1611.5 L776.3,1611.6 L777.8,1611.7 L779.3,1611.7 L780.8,1611.7 L782.2,1611.7 L783.7,1611.7 L785.2,1611.7 L786.7,1611.6 L788.2,1611.5 L789.7,1611.4 L791.1,1611.3 L792.6,1611.1 L794.1,1611.0 L795.6,1610.8 L797.1,1610.6 L798.5,1610.3 L800.0,1610.1 L801.5,1609.9 L803.0,1609.6 L804.4,1609.3 L805.9,1609.1 L807.4,1608.8 L808.8,1608.5 L810.3,1608.2 L811.8,1607.9 L813.3,1607.6 L814.7,1607.2 L816.2,1606.9 L817.7,1606.6 L819.2,1606.3 L820.6,1606.0 L822.1,1605.7 L823.6,1605.3 L825.0,1605.0 L826.5,1604.7 L828.0,1604.4 L829.5,1604.1 L830.9,1603.9 L832.4,1603.6 L833.9,1603.3 L835.4,1603.1 L836.8,1602.8 L838.3,1602.6 L839.8,1602.4 L841.3,1602.2 L842.8,1602.0 L844.2,1601.9 L845.7,1601.7 L847.2,1601.6 L848.7,1601.5 L850.2,1601.4 L851.7,1601.4 L853.2,1601.4 L854.6,1601.3 L856.1,1601.4 L857.6,1601.4 L859.1,1601.5 L860.6,1601.6 L862.1,1601.7 L863.6,1601.8 L865.1,1601.9 L866.6,1602.1 L868.1,1602.2 L869.6,1602.4 L871.1,1602.6 L872.6,1602.8 L874.1,1602.9 L875.6,1603.1 L877.1,1603.3 L878.6,1603.5 L880.1,1603.7 L881.6,1603.9 L883.1,1604.1 L884.6,1604.2 L886.1,1604.4 L887.6,1604.6 L889.1,1604.7 L890.6,1604.8 L892.1,1604.9 L893.6,1605.0 L895.1,1605.1 L896.6,1605.2 L898.1,1605.2 L899.6,1605.3 L901.1,1605.3 L902.6,1605.3 L904.0,1605.3 L905.5,1605.3 L907.0,1605.3 L908.5,1605.3 L910.0,1605.2 L911.5,1605.2 L913.0,1605.2 L914.5,1605.1 L916.0,1605.1 L917.5,1605.0 L919.0,1605.0 L920.5,1604.9 L922.0,1604.8 L923.4,1604.8 L924.9,1604.7 L926.4,1604.7 L927.9,1604.6 L929.4,1604.5 L930.9,1604.5 L932.4,1604.4 L933.9,1604.4 L935.4,1604.3 L936.9,1604.3 L938.4,1604.3 L939.9,1604.2 L941.4,1604.2 L942.9,1604.2 L944.4,1604.2 L945.9,1604.2 L947.4,1604.2 L948.9,1604.2 L950.4,1604.2 L951.9,1604.3 L953.4,1604.3 L954.9,1604.4 L956.4,1604.5 L957.9,1604.6 L959.4,1604.7 L960.9,1604.8 L962.4,1604.9 L963.8,1605.1 L965.3,1605.2 L966.8,1605.4 L968.3,1605.6 L969.8,1605.8 L971.3,1606.0 L972.8,1606.3 L974.3,1606.5 L975.7,1606.8 L977.2,1607.0 L978.7,1607.3 L980.2,1607.5 L981.7,1607.8 L983.2,1608.1 L984.6,1608.4 L986.1,1608.6 L987.6,1608.9 L989.1,1609.1 L990.6,1609.4 L992.1,1609.6 L993.5,1609.8 L995.0,1609.9 L996.5,1610.0 L998.0,1610.1 L999.5,1610.2 L1001.0,1610.1" stroke-width="4.9" stroke-linecap="round" stroke-dasharray="16.9 15.8 3.3 16.7 3.3 16.7" stroke-dashoffset="14.01"/>
<path d="M1001.0,1610.1 L1002.4,1610.1 L1003.9,1610.0 L1005.4,1609.9 L1006.9,1609.7 L1008.4,1609.5 L1009.9,1609.3 L1011.4,1609.1 L1012.8,1608.9 L1014.3,1608.6 L1015.8,1608.4 L1017.3,1608.1 L1018.8,1607.9 L1020.3,1607.7 L1021.8,1607.5 L1023.2,1607.3 L1024.7,1607.1 L1026.2,1606.9 L1027.7,1606.7 L1029.2,1606.6 L1030.7,1606.4 L1032.2,1606.3 L1033.6,1606.1 L1035.1,1606.0 L1036.6,1605.9 L1038.1,1605.7 L1039.6,1605.6 L1041.1,1605.5 L1042.6,1605.4 L1044.1,1605.3 L1045.6,1605.2 L1047.0,1605.2 L1048.5,1605.1 L1050.0,1605.0 L1051.5,1604.9 L1053.0,1604.9 L1054.5,1604.8 L1056.0,1604.8 L1057.5,1604.7 L1059.0,1604.7 L1060.5,1604.6 L1062.0,1604.6 L1063.5,1604.5 L1065.0,1604.5 L1066.5,1604.5 L1068.0,1604.5 L1069.5,1604.4 L1071.0,1604.4 L1072.4,1604.4 L1073.9,1604.4 L1075.4,1604.4 L1076.9,1604.4 L1078.4,1604.4 L1079.9,1604.4 L1081.4,1604.4 L1082.9,1604.5 L1084.4,1604.5 L1085.9,1604.5 L1087.4,1604.5 L1088.9,1604.6 L1090.4,1604.6 L1091.9,1604.7 L1093.4,1604.7 L1094.9,1604.8 L1096.4,1604.8 L1097.9,1604.9 L1099.4,1604.9 L1100.9,1605.0 L1102.4,1605.1 L1103.9,1605.2 L1105.4,1605.3 L1106.9,1605.4 L1108.4,1605.5 L1109.9,1605.6 L1111.4,1605.7 L1112.9,1605.8 L1114.4,1605.9 L1115.9,1606.0 L1117.4,1606.1 L1118.9,1606.3 L1120.4,1606.4 L1121.9,1606.5 L1123.4,1606.7 L1124.9,1606.8 L1126.4,1607.0 L1127.9,1607.1 L1129.4,1607.3 L1130.8,1607.5 L1132.3,1607.6 L1133.8,1607.8 L1135.3,1607.9 L1136.8,1608.1 L1138.3,1608.3 L1139.8,1608.4 L1141.3,1608.6 L1142.8,1608.7 L1144.3,1608.9 L1145.7,1609.0 L1147.2,1609.2 L1148.7,1609.3 L1150.2,1609.5 L1151.7,1609.6 L1153.2,1609.7 L1154.7,1609.9 L1156.2,1610.0 L1157.7,1610.1 L1159.2,1610.2 L1160.6,1610.3 L1162.1,1610.4 L1163.6,1610.5 L1165.1,1610.6 L1166.6,1610.6 L1168.1,1610.7 L1169.6,1610.8 L1171.1,1610.8 L1172.6,1610.8 L1174.1,1610.9 L1175.6,1610.9 L1177.1,1610.9 L1178.5,1611.0 L1180.0,1611.0 L1181.5,1611.0 L1183.0,1611.0 L1184.5,1611.0 L1186.0,1611.0 L1187.5,1611.0 L1189.0,1611.0 L1190.5,1611.0 L1192.0,1610.9 L1193.5,1610.9 L1195.0,1610.9 L1196.5,1610.9 L1198.0,1610.9 L1199.5,1610.9 L1201.0,1610.9 L1202.5,1610.9 L1204.0,1610.8 L1205.5,1610.8 L1207.0,1610.8 L1208.5,1610.8 L1210.0,1610.8 L1211.5,1610.8 L1213.0,1610.8 L1214.5,1610.8 L1215.9,1610.9 L1217.4,1610.9 L1218.9,1610.9 L1220.4,1610.9 L1221.9,1611.0 L1223.4,1611.0 L1224.9,1611.1 L1226.4,1611.1 L1227.9,1611.1 L1229.4,1611.2 L1230.9,1611.2 L1232.4,1611.3 L1233.9,1611.3 L1235.4,1611.4 L1236.9,1611.4 L1238.4,1611.5 L1239.9,1611.6 L1241.4,1611.6 L1242.9,1611.7 L1244.4,1611.7 L1245.9,1611.7 L1247.4,1611.8 L1248.9,1611.8 L1250.4,1611.9 L1251.9,1611.9 L1253.4,1611.9 L1254.9,1611.9 L1256.4,1612.0 L1257.9,1612.0 L1259.4,1612.0 L1260.8,1612.0 L1262.3,1612.0 L1263.8,1612.0 L1265.3,1611.9 L1266.8,1611.9 L1268.3,1611.9 L1269.8,1611.8 L1271.3,1611.8 L1272.8,1611.7 L1274.3,1611.6 L1275.8,1611.5 L1277.3,1611.4 L1278.8,1611.3 L1280.3,1611.2 L1281.8,1611.1 L1283.2,1610.9 L1284.7,1610.8 L1286.2,1610.6 L1287.7,1610.4 L1289.2,1610.2 L1290.7,1610.0" stroke-width="4.9" stroke-linecap="round" stroke-dasharray="16.9 15.8 3.3 16.7 3.3 16.7" stroke-dashoffset="35.57"/>
</g>
<g stroke="#000" stroke-width="1.9">
<line x1="445.9" y1="46.8" x2="445.9" y2="506.7"/>
<line x1="539.2" y1="590" x2="539.2" y2="1267.7"/>
</g>
<g stroke="#000" stroke-width="5.3" stroke-linecap="round" fill="none">
<rect x="216.3" y="22.5" width="1074.4" height="1609.0" stroke-linejoin="round"/>
<line x1="216.3" y1="1631.5" x2="216.3" y2="1651.5"/>
<line x1="252.1" y1="1631.5" x2="252.1" y2="1640.5"/>
<line x1="287.9" y1="1631.5" x2="287.9" y2="1640.5"/>
<line x1="323.7" y1="1631.5" x2="323.7" y2="1640.5"/>
<line x1="359.6" y1="1631.5" x2="359.6" y2="1640.5"/>
<line x1="395.4" y1="1631.5" x2="395.4" y2="1651.5"/>
<line x1="431.2" y1="1631.5" x2="431.2" y2="1640.5"/>
<line x1="467.0" y1="1631.5" x2="467.0" y2="1640.5"/>
<line x1="502.8" y1="1631.5" x2="502.8" y2="1640.5"/>
<line x1="538.6" y1="1631.5" x2="538.6" y2="1640.5"/>
<line x1="574.4" y1="1631.5" x2="574.4" y2="1651.5"/>
<line x1="610.2" y1="1631.5" x2="610.2" y2="1640.5"/>
<line x1="646.1" y1="1631.5" x2="646.1" y2="1640.5"/>
<line x1="681.9" y1="1631.5" x2="681.9" y2="1640.5"/>
<line x1="717.7" y1="1631.5" x2="717.7" y2="1640.5"/>
<line x1="753.5" y1="1631.5" x2="753.5" y2="1651.5"/>
<line x1="789.3" y1="1631.5" x2="789.3" y2="1640.5"/>
<line x1="825.1" y1="1631.5" x2="825.1" y2="1640.5"/>
<line x1="860.9" y1="1631.5" x2="860.9" y2="1640.5"/>
<line x1="896.8" y1="1631.5" x2="896.8" y2="1640.5"/>
<line x1="932.6" y1="1631.5" x2="932.6" y2="1651.5"/>
<line x1="968.4" y1="1631.5" x2="968.4" y2="1640.5"/>
<line x1="1004.2" y1="1631.5" x2="1004.2" y2="1640.5"/>
<line x1="1040.0" y1="1631.5" x2="1040.0" y2="1640.5"/>
<line x1="1075.8" y1="1631.5" x2="1075.8" y2="1640.5"/>
<line x1="1111.6" y1="1631.5" x2="1111.6" y2="1651.5"/>
<line x1="1147.4" y1="1631.5" x2="1147.4" y2="1640.5"/>
<line x1="1183.3" y1="1631.5" x2="1183.3" y2="1640.5"/>
<line x1="1219.1" y1="1631.5" x2="1219.1" y2="1640.5"/>
<line x1="1254.9" y1="1631.5" x2="1254.9" y2="1640.5"/>
<line x1="1290.7" y1="1631.5" x2="1290.7" y2="1651.5"/>
<line x1="216.3" y1="1614.00" x2="197.3" y2="1614.00"/>
<line x1="216.3" y1="1260.35" x2="197.3" y2="1260.35"/>
<line x1="216.3" y1="906.70" x2="197.3" y2="906.70"/>
<line x1="216.3" y1="553.05" x2="197.3" y2="553.05"/>
<line x1="216.3" y1="199.40" x2="197.3" y2="199.40"/>
</g>
<g font-family="Liberation Sans, sans-serif" fill="#000">
<text transform="translate(182.3,1630.2) scale(1,1.040)" font-size="56" text-anchor="end">0</text>
<text transform="translate(182.3,1276.5) scale(1,1.040)" font-size="56" text-anchor="end">20</text>
<text transform="translate(182.3,922.9) scale(1,1.040)" font-size="56" text-anchor="end">40</text>
<text transform="translate(182.3,569.2) scale(1,1.040)" font-size="56" text-anchor="end">60</text>
<text transform="translate(182.3,215.6) scale(1,1.040)" font-size="56" text-anchor="end">80</text>
<text transform="translate(216.3,1709.3) scale(1,1.040)" font-size="56" text-anchor="middle">0</text>
<path d="M397.2,1668 L401.1,1668 L401.1,1708.9 L396,1708.9 L396,1677.1 Q392.5,1680.2 385.9,1682.8 L385.9,1678.2 Q390.5,1676.3 393.5,1673.2 Q396,1670.6 397.2,1668 Z"/>
<text transform="translate(574.4,1709.3) scale(1,1.040)" font-size="56" text-anchor="middle">2</text>
<text transform="translate(753.5,1709.3) scale(1,1.040)" font-size="56" text-anchor="middle">3</text>
<text transform="translate(932.6,1709.3) scale(1,1.040)" font-size="56" text-anchor="middle">4</text>
<text transform="translate(1111.6,1709.3) scale(1,1.040)" font-size="56" text-anchor="middle">5</text>
<text transform="translate(1290.7,1709.3) scale(1,1.040)" font-size="56" text-anchor="middle">6</text>
<text transform="translate(754.5,1800.5) scale(1,1.040)" font-size="57" text-anchor="middle">E [eV]</text>
<text transform="translate(63.7,826.5) rotate(-90) scale(1,1.0)" font-size="58" text-anchor="middle">F.T., shifted for clarity</text>
<text transform="translate(238.0,313.3) scale(1,1.040) scale(1,0.9615)" font-size="56" text-anchor="start">(a)</text>
<text transform="translate(238.0,858.0) scale(1,1.040) scale(1,0.9615)" font-size="56" text-anchor="start">(b)</text>
</g>
<g font-family="Liberation Sans, sans-serif" fill="#000">
<text transform="translate(900.2,268.0) scale(1,1.000)" font-size="57">Ge in willemite</text>
<text transform="translate(1136.4,480.0) scale(1,1.040)" font-size="57">GeO<tspan font-size="33" dy="20">2</tspan><tspan dy="-20"></tspan></text>
<text transform="translate(876.7,831.5) scale(1,1.000)" font-size="57">Ge in sphalerite</text>
<text transform="translate(667.4,974.2) scale(1,1.000)" font-size="57">briartite Cu<tspan font-size="33" dy="20">2</tspan><tspan dy="-20">(Zn,Fe)GeS<tspan font-size="33" dy="20">4</tspan><tspan dy="-20"></tspan></tspan></text>
<text transform="translate(698.6,1176.5) scale(1,1.000)" font-size="57">argyrodite Ag<tspan font-size="33" dy="20">8</tspan><tspan dy="-20">(GeS<tspan font-size="33" dy="20">4</tspan><tspan dy="-20">)S<tspan font-size="33" dy="20">2</tspan><tspan dy="-20"></tspan></tspan></tspan></text>
<text transform="translate(1145.3,1392.5) scale(1,1.040)" font-size="57">GeS<tspan font-size="33" dy="20">2</tspan><tspan dy="-20"></tspan></text>
<text transform="translate(1161.0,1575.2) scale(1,1.040)" font-size="57">GeS</text>
</g>
</svg>
</body></html>
